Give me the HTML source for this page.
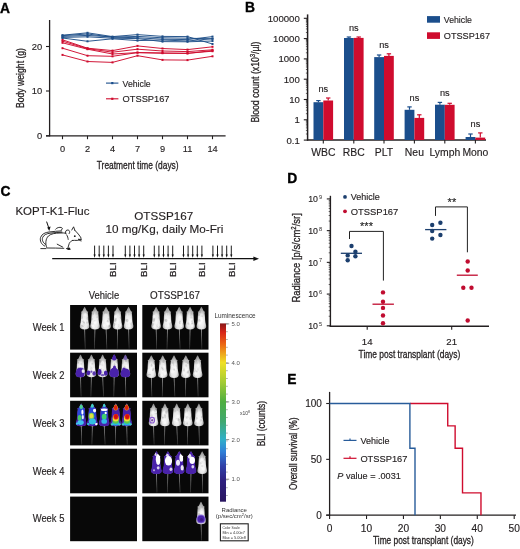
<!DOCTYPE html>
<html><head><meta charset="utf-8"><title>Figure</title>
<style>
html,body{margin:0;padding:0;background:#fff;}
body{width:520px;height:549px;overflow:hidden;}
svg{display:block;font-family:"Liberation Sans", sans-serif;filter:blur(0.25px);}
</style></head>
<body>
<svg width="520" height="549" viewBox="0 0 520 549">
<defs>
<radialGradient id="mg" cx="0.5" cy="0.66" r="0.64">
<stop offset="0" stop-color="#fafafa"/><stop offset="0.5" stop-color="#e8e8e8"/><stop offset="1" stop-color="#8a8a8a"/>
</radialGradient>
<linearGradient id="tg" x1="0" y1="0" x2="0" y2="1">
<stop offset="0" stop-color="#a0a0a0"/><stop offset="1" stop-color="#3a3a3a"/>
</linearGradient>
<linearGradient id="cb" x1="0" y1="0" x2="0" y2="1">
<stop offset="0" stop-color="#881818"/>
<stop offset="0.05" stop-color="#d82418"/>
<stop offset="0.12" stop-color="#ec6a14"/>
<stop offset="0.22" stop-color="#f0e024"/>
<stop offset="0.33" stop-color="#a4cc34"/>
<stop offset="0.44" stop-color="#4eae40"/>
<stop offset="0.55" stop-color="#40a870"/>
<stop offset="0.65" stop-color="#30b0c8"/>
<stop offset="0.72" stop-color="#3080d8"/>
<stop offset="0.80" stop-color="#3040a8"/>
<stop offset="0.88" stop-color="#2e2080"/>
<stop offset="1" stop-color="#2a1660"/>
</linearGradient>
<clipPath id="mc"><path d="M0.00,0.00 L0.70,0.90 L1.30,2.30 L2.00,3.80 L2.80,4.60 L3.70,5.00 L3.20,6.00 L3.40,7.40 L3.60,10.00 L3.70,13.00 L4.00,15.50 L4.50,17.80 L4.80,19.20 L4.60,20.60 L3.80,21.70 L2.20,22.40 L0.00,22.60 L-2.20,22.40 L-3.80,21.70 L-4.60,20.60 L-4.80,19.20 L-4.50,17.80 L-4.00,15.50 L-3.70,13.00 L-3.60,10.00 L-3.40,7.40 L-3.20,6.00 L-3.70,5.00 L-2.80,4.60 L-2.00,3.80 L-1.30,2.30 L-0.70,0.90 Z"/></clipPath>
<clipPath id="mc2"><path d="M0.00,0.00 L0.70,0.90 L1.30,2.30 L2.00,3.80 L2.80,4.60 L3.70,5.00 L3.20,6.00 L3.40,7.40 L3.60,10.00 L3.70,13.00 L4.00,15.50 L4.50,17.80 L4.80,19.20 L4.60,20.60 L3.80,21.70 L2.20,22.40 L0.00,22.60 L-2.20,22.40 L-3.80,21.70 L-4.60,20.60 L-4.80,19.20 L-4.50,17.80 L-4.00,15.50 L-3.70,13.00 L-3.60,10.00 L-3.40,7.40 L-3.20,6.00 L-3.70,5.00 L-2.80,4.60 L-2.00,3.80 L-1.30,2.30 L-0.70,0.90 Z" transform="translate(0 -0.3) scale(1.16 1.03)"/></clipPath>
<filter id="soft" x="-30%" y="-20%" width="160%" height="140%"><feGaussianBlur stdDeviation="0.6"/></filter>
<filter id="soft2" x="-20%" y="-20%" width="140%" height="140%"><feGaussianBlur stdDeviation="0.6"/></filter>
</defs>
<rect width="520" height="549" fill="#fff"/>
<text x="0.00" y="12.60" font-size="13.8" fill="#000" font-weight="bold" style="stroke:#000;stroke-width:0.35">A</text>
<text x="245.00" y="12.20" font-size="13.8" fill="#000" font-weight="bold" style="stroke:#000;stroke-width:0.35">B</text>
<text x="0.40" y="195.80" font-size="13.8" fill="#000" font-weight="bold" style="stroke:#000;stroke-width:0.35">C</text>
<text x="287.20" y="182.90" font-size="13.8" fill="#000" font-weight="bold" style="stroke:#000;stroke-width:0.35">D</text>
<text x="287.30" y="384.30" font-size="13.8" fill="#000" font-weight="bold" style="stroke:#000;stroke-width:0.35">E</text>
<line x1="49.60" y1="20.00" x2="49.60" y2="136.40" stroke="#231f20" stroke-width="1.3" />
<line x1="46.00" y1="135.80" x2="225.60" y2="135.80" stroke="#231f20" stroke-width="1.3" />
<line x1="46.00" y1="135.80" x2="49.60" y2="135.80" stroke="#231f20" stroke-width="1.1" />
<text x="42.20" y="139.10" font-size="9.4" fill="#231f20" text-anchor="end" stroke="#231f20" stroke-width="0.15">0</text>
<line x1="46.00" y1="91.00" x2="49.60" y2="91.00" stroke="#231f20" stroke-width="1.1" />
<text x="42.20" y="94.30" font-size="9.4" fill="#231f20" text-anchor="end" stroke="#231f20" stroke-width="0.15">10</text>
<line x1="46.00" y1="46.50" x2="49.60" y2="46.50" stroke="#231f20" stroke-width="1.1" />
<text x="42.20" y="49.80" font-size="9.4" fill="#231f20" text-anchor="end" stroke="#231f20" stroke-width="0.15">20</text>
<line x1="62.50" y1="135.80" x2="62.50" y2="139.20" stroke="#231f20" stroke-width="1.1" />
<text x="62.50" y="152.20" font-size="9.2" fill="#231f20" text-anchor="middle" stroke="#231f20" stroke-width="0.15">0</text>
<line x1="87.50" y1="135.80" x2="87.50" y2="139.20" stroke="#231f20" stroke-width="1.1" />
<text x="87.50" y="152.20" font-size="9.2" fill="#231f20" text-anchor="middle" stroke="#231f20" stroke-width="0.15">2</text>
<line x1="112.50" y1="135.80" x2="112.50" y2="139.20" stroke="#231f20" stroke-width="1.1" />
<text x="112.50" y="152.20" font-size="9.2" fill="#231f20" text-anchor="middle" stroke="#231f20" stroke-width="0.15">4</text>
<line x1="137.50" y1="135.80" x2="137.50" y2="139.20" stroke="#231f20" stroke-width="1.1" />
<text x="137.50" y="152.20" font-size="9.2" fill="#231f20" text-anchor="middle" stroke="#231f20" stroke-width="0.15">7</text>
<line x1="162.50" y1="135.80" x2="162.50" y2="139.20" stroke="#231f20" stroke-width="1.1" />
<text x="162.50" y="152.20" font-size="9.2" fill="#231f20" text-anchor="middle" stroke="#231f20" stroke-width="0.15">9</text>
<line x1="187.50" y1="135.80" x2="187.50" y2="139.20" stroke="#231f20" stroke-width="1.1" />
<text x="187.50" y="152.20" font-size="9.2" fill="#231f20" text-anchor="middle" stroke="#231f20" stroke-width="0.15">11</text>
<line x1="212.50" y1="135.80" x2="212.50" y2="139.20" stroke="#231f20" stroke-width="1.1" />
<text x="212.50" y="152.20" font-size="9.2" fill="#231f20" text-anchor="middle" stroke="#231f20" stroke-width="0.15">14</text>
<text x="96.80" y="168.60" font-size="11" fill="#231f20" textLength="81.8" lengthAdjust="spacingAndGlyphs" style="stroke:#231f20;stroke-width:0.3">Treatment time (days)</text>
<text x="23.60" y="108.00" font-size="11" fill="#231f20" textLength="60" lengthAdjust="spacingAndGlyphs" transform="rotate(-90 23.60 108.00)" style="stroke:#231f20;stroke-width:0.3">Body weight (g)</text>
<polyline points="62.50,39.80 87.50,48.20 112.50,50.60 137.50,45.90 162.50,48.50 187.50,49.60 212.50,46.80" stroke="#cf0c2e" stroke-width="0.95" fill="none" />
<rect x="61.50" y="38.80" width="2.0" height="2.0" fill="#cf0c2e"/>
<rect x="86.50" y="47.20" width="2.0" height="2.0" fill="#cf0c2e"/>
<rect x="111.50" y="49.60" width="2.0" height="2.0" fill="#cf0c2e"/>
<rect x="136.50" y="44.90" width="2.0" height="2.0" fill="#cf0c2e"/>
<rect x="161.50" y="47.50" width="2.0" height="2.0" fill="#cf0c2e"/>
<rect x="186.50" y="48.60" width="2.0" height="2.0" fill="#cf0c2e"/>
<rect x="211.50" y="45.80" width="2.0" height="2.0" fill="#cf0c2e"/>
<polyline points="62.50,41.20 87.50,48.60 112.50,52.20 137.50,49.20 162.50,51.00 187.50,51.60 212.50,49.80" stroke="#cf0c2e" stroke-width="0.95" fill="none" />
<rect x="61.50" y="40.20" width="2.0" height="2.0" fill="#cf0c2e"/>
<rect x="86.50" y="47.60" width="2.0" height="2.0" fill="#cf0c2e"/>
<rect x="111.50" y="51.20" width="2.0" height="2.0" fill="#cf0c2e"/>
<rect x="136.50" y="48.20" width="2.0" height="2.0" fill="#cf0c2e"/>
<rect x="161.50" y="50.00" width="2.0" height="2.0" fill="#cf0c2e"/>
<rect x="186.50" y="50.60" width="2.0" height="2.0" fill="#cf0c2e"/>
<rect x="211.50" y="48.80" width="2.0" height="2.0" fill="#cf0c2e"/>
<polyline points="62.50,42.80 87.50,49.20 112.50,54.00 137.50,52.60 162.50,53.00 187.50,53.40 212.50,50.60" stroke="#cf0c2e" stroke-width="0.95" fill="none" />
<rect x="61.50" y="41.80" width="2.0" height="2.0" fill="#cf0c2e"/>
<rect x="86.50" y="48.20" width="2.0" height="2.0" fill="#cf0c2e"/>
<rect x="111.50" y="53.00" width="2.0" height="2.0" fill="#cf0c2e"/>
<rect x="136.50" y="51.60" width="2.0" height="2.0" fill="#cf0c2e"/>
<rect x="161.50" y="52.00" width="2.0" height="2.0" fill="#cf0c2e"/>
<rect x="186.50" y="52.40" width="2.0" height="2.0" fill="#cf0c2e"/>
<rect x="211.50" y="49.60" width="2.0" height="2.0" fill="#cf0c2e"/>
<polyline points="62.50,48.20 87.50,55.70 112.50,56.30 137.50,52.60 162.50,53.20 187.50,53.30 212.50,51.20" stroke="#cf0c2e" stroke-width="0.95" fill="none" />
<rect x="61.50" y="47.20" width="2.0" height="2.0" fill="#cf0c2e"/>
<rect x="86.50" y="54.70" width="2.0" height="2.0" fill="#cf0c2e"/>
<rect x="111.50" y="55.30" width="2.0" height="2.0" fill="#cf0c2e"/>
<rect x="136.50" y="51.60" width="2.0" height="2.0" fill="#cf0c2e"/>
<rect x="161.50" y="52.20" width="2.0" height="2.0" fill="#cf0c2e"/>
<rect x="186.50" y="52.30" width="2.0" height="2.0" fill="#cf0c2e"/>
<rect x="211.50" y="50.20" width="2.0" height="2.0" fill="#cf0c2e"/>
<polyline points="62.50,54.90 87.50,61.50 112.50,62.40 137.50,55.70 162.50,59.90 187.50,60.10 212.50,56.30" stroke="#cf0c2e" stroke-width="0.95" fill="none" />
<rect x="61.50" y="53.90" width="2.0" height="2.0" fill="#cf0c2e"/>
<rect x="86.50" y="60.50" width="2.0" height="2.0" fill="#cf0c2e"/>
<rect x="111.50" y="61.40" width="2.0" height="2.0" fill="#cf0c2e"/>
<rect x="136.50" y="54.70" width="2.0" height="2.0" fill="#cf0c2e"/>
<rect x="161.50" y="58.90" width="2.0" height="2.0" fill="#cf0c2e"/>
<rect x="186.50" y="59.10" width="2.0" height="2.0" fill="#cf0c2e"/>
<rect x="211.50" y="55.30" width="2.0" height="2.0" fill="#cf0c2e"/>
<polyline points="62.50,35.20 87.50,32.80 112.50,36.60 137.50,34.60 162.50,36.40 187.50,36.60 212.50,44.00" stroke="#1f4f88" stroke-width="0.95" fill="none" />
<rect x="61.50" y="34.20" width="2.0" height="2.0" fill="#1f4f88"/>
<rect x="86.50" y="31.80" width="2.0" height="2.0" fill="#1f4f88"/>
<rect x="111.50" y="35.60" width="2.0" height="2.0" fill="#1f4f88"/>
<rect x="136.50" y="33.60" width="2.0" height="2.0" fill="#1f4f88"/>
<rect x="161.50" y="35.40" width="2.0" height="2.0" fill="#1f4f88"/>
<rect x="186.50" y="35.60" width="2.0" height="2.0" fill="#1f4f88"/>
<rect x="211.50" y="43.00" width="2.0" height="2.0" fill="#1f4f88"/>
<polyline points="62.50,35.60 87.50,34.00 112.50,37.20 137.50,36.40 162.50,37.80 187.50,38.20 212.50,38.80" stroke="#1f4f88" stroke-width="0.95" fill="none" />
<rect x="61.50" y="34.60" width="2.0" height="2.0" fill="#1f4f88"/>
<rect x="86.50" y="33.00" width="2.0" height="2.0" fill="#1f4f88"/>
<rect x="111.50" y="36.20" width="2.0" height="2.0" fill="#1f4f88"/>
<rect x="136.50" y="35.40" width="2.0" height="2.0" fill="#1f4f88"/>
<rect x="161.50" y="36.80" width="2.0" height="2.0" fill="#1f4f88"/>
<rect x="186.50" y="37.20" width="2.0" height="2.0" fill="#1f4f88"/>
<rect x="211.50" y="37.80" width="2.0" height="2.0" fill="#1f4f88"/>
<polyline points="62.50,36.40 87.50,35.40 112.50,37.00 137.50,37.80 162.50,39.20 187.50,39.60 212.50,36.60" stroke="#1f4f88" stroke-width="0.95" fill="none" />
<rect x="61.50" y="35.40" width="2.0" height="2.0" fill="#1f4f88"/>
<rect x="86.50" y="34.40" width="2.0" height="2.0" fill="#1f4f88"/>
<rect x="111.50" y="36.00" width="2.0" height="2.0" fill="#1f4f88"/>
<rect x="136.50" y="36.80" width="2.0" height="2.0" fill="#1f4f88"/>
<rect x="161.50" y="38.20" width="2.0" height="2.0" fill="#1f4f88"/>
<rect x="186.50" y="38.60" width="2.0" height="2.0" fill="#1f4f88"/>
<rect x="211.50" y="35.60" width="2.0" height="2.0" fill="#1f4f88"/>
<polyline points="62.50,37.40 87.50,36.80 112.50,38.20 137.50,38.60 162.50,41.60 187.50,41.80 212.50,41.00" stroke="#1f4f88" stroke-width="0.95" fill="none" />
<rect x="61.50" y="36.40" width="2.0" height="2.0" fill="#1f4f88"/>
<rect x="86.50" y="35.80" width="2.0" height="2.0" fill="#1f4f88"/>
<rect x="111.50" y="37.20" width="2.0" height="2.0" fill="#1f4f88"/>
<rect x="136.50" y="37.60" width="2.0" height="2.0" fill="#1f4f88"/>
<rect x="161.50" y="40.60" width="2.0" height="2.0" fill="#1f4f88"/>
<rect x="186.50" y="40.80" width="2.0" height="2.0" fill="#1f4f88"/>
<rect x="211.50" y="40.00" width="2.0" height="2.0" fill="#1f4f88"/>
<polyline points="62.50,38.00 87.50,41.30 112.50,38.80 137.50,40.60 162.50,40.00 187.50,41.00 212.50,38.70" stroke="#1f4f88" stroke-width="0.95" fill="none" />
<rect x="61.50" y="37.00" width="2.0" height="2.0" fill="#1f4f88"/>
<rect x="86.50" y="40.30" width="2.0" height="2.0" fill="#1f4f88"/>
<rect x="111.50" y="37.80" width="2.0" height="2.0" fill="#1f4f88"/>
<rect x="136.50" y="39.60" width="2.0" height="2.0" fill="#1f4f88"/>
<rect x="161.50" y="39.00" width="2.0" height="2.0" fill="#1f4f88"/>
<rect x="186.50" y="40.00" width="2.0" height="2.0" fill="#1f4f88"/>
<rect x="211.50" y="37.70" width="2.0" height="2.0" fill="#1f4f88"/>
<line x1="106.00" y1="83.10" x2="118.40" y2="83.10" stroke="#1b4e8c" stroke-width="1.1" />
<rect x="111.20" y="82.00" width="2.20" height="2.20" fill="#1b4e8c" />
<text x="122.60" y="86.60" font-size="9.3" fill="#231f20" textLength="28.1" lengthAdjust="spacingAndGlyphs" stroke="#231f20" stroke-width="0.15">Vehicle</text>
<line x1="106.00" y1="98.80" x2="118.40" y2="98.80" stroke="#cf0c2e" stroke-width="1.1" />
<rect x="111.20" y="97.70" width="2.20" height="2.20" fill="#cf0c2e" />
<text x="122.60" y="102.30" font-size="9.3" fill="#231f20" textLength="46.9" lengthAdjust="spacingAndGlyphs" stroke="#231f20" stroke-width="0.15">OTSSP167</text>
<line x1="307.60" y1="14.40" x2="307.60" y2="140.60" stroke="#231f20" stroke-width="1.5" />
<line x1="306.90" y1="140.00" x2="486.00" y2="140.00" stroke="#231f20" stroke-width="1.5" />
<line x1="303.80" y1="140.10" x2="307.60" y2="140.10" stroke="#231f20" stroke-width="1.1" />
<text x="299.80" y="143.50" font-size="9.6" fill="#231f20" text-anchor="end" stroke="#231f20" stroke-width="0.15">0.1</text>
<line x1="305.90" y1="133.99" x2="307.60" y2="133.99" stroke="#231f20" stroke-width="0.7" />
<line x1="305.90" y1="130.41" x2="307.60" y2="130.41" stroke="#231f20" stroke-width="0.7" />
<line x1="305.90" y1="127.88" x2="307.60" y2="127.88" stroke="#231f20" stroke-width="0.7" />
<line x1="305.90" y1="125.91" x2="307.60" y2="125.91" stroke="#231f20" stroke-width="0.7" />
<line x1="305.90" y1="124.30" x2="307.60" y2="124.30" stroke="#231f20" stroke-width="0.7" />
<line x1="305.90" y1="122.94" x2="307.60" y2="122.94" stroke="#231f20" stroke-width="0.7" />
<line x1="305.90" y1="121.77" x2="307.60" y2="121.77" stroke="#231f20" stroke-width="0.7" />
<line x1="305.90" y1="120.73" x2="307.60" y2="120.73" stroke="#231f20" stroke-width="0.7" />
<line x1="303.80" y1="119.80" x2="307.60" y2="119.80" stroke="#231f20" stroke-width="1.1" />
<text x="299.80" y="123.20" font-size="9.6" fill="#231f20" text-anchor="end" stroke="#231f20" stroke-width="0.15">1</text>
<line x1="305.90" y1="113.69" x2="307.60" y2="113.69" stroke="#231f20" stroke-width="0.7" />
<line x1="305.90" y1="110.11" x2="307.60" y2="110.11" stroke="#231f20" stroke-width="0.7" />
<line x1="305.90" y1="107.58" x2="307.60" y2="107.58" stroke="#231f20" stroke-width="0.7" />
<line x1="305.90" y1="105.61" x2="307.60" y2="105.61" stroke="#231f20" stroke-width="0.7" />
<line x1="305.90" y1="104.00" x2="307.60" y2="104.00" stroke="#231f20" stroke-width="0.7" />
<line x1="305.90" y1="102.64" x2="307.60" y2="102.64" stroke="#231f20" stroke-width="0.7" />
<line x1="305.90" y1="101.47" x2="307.60" y2="101.47" stroke="#231f20" stroke-width="0.7" />
<line x1="305.90" y1="100.43" x2="307.60" y2="100.43" stroke="#231f20" stroke-width="0.7" />
<line x1="303.80" y1="99.50" x2="307.60" y2="99.50" stroke="#231f20" stroke-width="1.1" />
<text x="299.80" y="102.90" font-size="9.6" fill="#231f20" text-anchor="end" stroke="#231f20" stroke-width="0.15">10</text>
<line x1="305.90" y1="93.39" x2="307.60" y2="93.39" stroke="#231f20" stroke-width="0.7" />
<line x1="305.90" y1="89.81" x2="307.60" y2="89.81" stroke="#231f20" stroke-width="0.7" />
<line x1="305.90" y1="87.28" x2="307.60" y2="87.28" stroke="#231f20" stroke-width="0.7" />
<line x1="305.90" y1="85.31" x2="307.60" y2="85.31" stroke="#231f20" stroke-width="0.7" />
<line x1="305.90" y1="83.70" x2="307.60" y2="83.70" stroke="#231f20" stroke-width="0.7" />
<line x1="305.90" y1="82.34" x2="307.60" y2="82.34" stroke="#231f20" stroke-width="0.7" />
<line x1="305.90" y1="81.17" x2="307.60" y2="81.17" stroke="#231f20" stroke-width="0.7" />
<line x1="305.90" y1="80.13" x2="307.60" y2="80.13" stroke="#231f20" stroke-width="0.7" />
<line x1="303.80" y1="79.20" x2="307.60" y2="79.20" stroke="#231f20" stroke-width="1.1" />
<text x="299.80" y="82.60" font-size="9.6" fill="#231f20" text-anchor="end" stroke="#231f20" stroke-width="0.15">100</text>
<line x1="305.90" y1="73.09" x2="307.60" y2="73.09" stroke="#231f20" stroke-width="0.7" />
<line x1="305.90" y1="69.51" x2="307.60" y2="69.51" stroke="#231f20" stroke-width="0.7" />
<line x1="305.90" y1="66.98" x2="307.60" y2="66.98" stroke="#231f20" stroke-width="0.7" />
<line x1="305.90" y1="65.01" x2="307.60" y2="65.01" stroke="#231f20" stroke-width="0.7" />
<line x1="305.90" y1="63.40" x2="307.60" y2="63.40" stroke="#231f20" stroke-width="0.7" />
<line x1="305.90" y1="62.04" x2="307.60" y2="62.04" stroke="#231f20" stroke-width="0.7" />
<line x1="305.90" y1="60.87" x2="307.60" y2="60.87" stroke="#231f20" stroke-width="0.7" />
<line x1="305.90" y1="59.83" x2="307.60" y2="59.83" stroke="#231f20" stroke-width="0.7" />
<line x1="303.80" y1="58.90" x2="307.60" y2="58.90" stroke="#231f20" stroke-width="1.1" />
<text x="299.80" y="62.30" font-size="9.6" fill="#231f20" text-anchor="end" stroke="#231f20" stroke-width="0.15">1000</text>
<line x1="305.90" y1="52.79" x2="307.60" y2="52.79" stroke="#231f20" stroke-width="0.7" />
<line x1="305.90" y1="49.21" x2="307.60" y2="49.21" stroke="#231f20" stroke-width="0.7" />
<line x1="305.90" y1="46.68" x2="307.60" y2="46.68" stroke="#231f20" stroke-width="0.7" />
<line x1="305.90" y1="44.71" x2="307.60" y2="44.71" stroke="#231f20" stroke-width="0.7" />
<line x1="305.90" y1="43.10" x2="307.60" y2="43.10" stroke="#231f20" stroke-width="0.7" />
<line x1="305.90" y1="41.74" x2="307.60" y2="41.74" stroke="#231f20" stroke-width="0.7" />
<line x1="305.90" y1="40.57" x2="307.60" y2="40.57" stroke="#231f20" stroke-width="0.7" />
<line x1="305.90" y1="39.53" x2="307.60" y2="39.53" stroke="#231f20" stroke-width="0.7" />
<line x1="303.80" y1="38.60" x2="307.60" y2="38.60" stroke="#231f20" stroke-width="1.1" />
<text x="299.80" y="42.00" font-size="9.6" fill="#231f20" text-anchor="end" stroke="#231f20" stroke-width="0.15">10000</text>
<line x1="305.90" y1="32.49" x2="307.60" y2="32.49" stroke="#231f20" stroke-width="0.7" />
<line x1="305.90" y1="28.91" x2="307.60" y2="28.91" stroke="#231f20" stroke-width="0.7" />
<line x1="305.90" y1="26.38" x2="307.60" y2="26.38" stroke="#231f20" stroke-width="0.7" />
<line x1="305.90" y1="24.41" x2="307.60" y2="24.41" stroke="#231f20" stroke-width="0.7" />
<line x1="305.90" y1="22.80" x2="307.60" y2="22.80" stroke="#231f20" stroke-width="0.7" />
<line x1="305.90" y1="21.44" x2="307.60" y2="21.44" stroke="#231f20" stroke-width="0.7" />
<line x1="305.90" y1="20.27" x2="307.60" y2="20.27" stroke="#231f20" stroke-width="0.7" />
<line x1="305.90" y1="19.23" x2="307.60" y2="19.23" stroke="#231f20" stroke-width="0.7" />
<line x1="303.80" y1="18.30" x2="307.60" y2="18.30" stroke="#231f20" stroke-width="1.1" />
<text x="299.80" y="21.70" font-size="9.6" fill="#231f20" text-anchor="end" stroke="#231f20" stroke-width="0.15">100000</text>
<text x="258.60" y="122.60" font-size="11" fill="#231f20" textLength="80.9" lengthAdjust="spacingAndGlyphs" transform="rotate(-90 258.60 122.60)" style="stroke:#231f20;stroke-width:0.3">Blood count (x10<tspan font-size="7" dy="-3.5">3</tspan><tspan dy="3.5">/µl)</tspan></text>
<line x1="318.40" y1="100.60" x2="318.40" y2="102.20" stroke="#1b4e8c" stroke-width="1.2" />
<line x1="316.20" y1="100.60" x2="320.60" y2="100.60" stroke="#1b4e8c" stroke-width="1.2" />
<line x1="328.20" y1="98.00" x2="328.20" y2="100.50" stroke="#cf0c2e" stroke-width="1.2" />
<line x1="326.00" y1="98.00" x2="330.40" y2="98.00" stroke="#cf0c2e" stroke-width="1.2" />
<rect x="313.50" y="102.20" width="9.80" height="37.80" fill="#1b4e8c" />
<rect x="323.30" y="100.50" width="9.80" height="39.50" fill="#cf0c2e" />
<line x1="323.30" y1="140.00" x2="323.30" y2="143.50" stroke="#231f20" stroke-width="1.1" />
<text x="323.30" y="156.30" font-size="10.4" fill="#231f20" text-anchor="middle" stroke="#231f20" stroke-width="0.15">WBC</text>
<text x="323.30" y="92.30" font-size="9.2" fill="#231f20" text-anchor="middle" stroke="#231f20" stroke-width="0.15">ns</text>
<line x1="348.90" y1="37.00" x2="348.90" y2="38.00" stroke="#1b4e8c" stroke-width="1.2" />
<line x1="346.70" y1="37.00" x2="351.10" y2="37.00" stroke="#1b4e8c" stroke-width="1.2" />
<line x1="358.70" y1="37.00" x2="358.70" y2="37.90" stroke="#cf0c2e" stroke-width="1.2" />
<line x1="356.50" y1="37.00" x2="360.90" y2="37.00" stroke="#cf0c2e" stroke-width="1.2" />
<rect x="344.00" y="38.00" width="9.80" height="102.00" fill="#1b4e8c" />
<rect x="353.80" y="37.90" width="9.80" height="102.10" fill="#cf0c2e" />
<line x1="353.80" y1="140.00" x2="353.80" y2="143.50" stroke="#231f20" stroke-width="1.1" />
<text x="353.80" y="156.30" font-size="10.4" fill="#231f20" text-anchor="middle" stroke="#231f20" stroke-width="0.15">RBC</text>
<text x="353.80" y="31.00" font-size="9.2" fill="#231f20" text-anchor="middle" stroke="#231f20" stroke-width="0.15">ns</text>
<line x1="379.10" y1="55.00" x2="379.10" y2="57.10" stroke="#1b4e8c" stroke-width="1.2" />
<line x1="376.90" y1="55.00" x2="381.30" y2="55.00" stroke="#1b4e8c" stroke-width="1.2" />
<line x1="388.90" y1="53.80" x2="388.90" y2="55.90" stroke="#cf0c2e" stroke-width="1.2" />
<line x1="386.70" y1="53.80" x2="391.10" y2="53.80" stroke="#cf0c2e" stroke-width="1.2" />
<rect x="374.20" y="57.10" width="9.80" height="82.90" fill="#1b4e8c" />
<rect x="384.00" y="55.90" width="9.80" height="84.10" fill="#cf0c2e" />
<line x1="384.00" y1="140.00" x2="384.00" y2="143.50" stroke="#231f20" stroke-width="1.1" />
<text x="384.00" y="156.30" font-size="10.4" fill="#231f20" text-anchor="middle" stroke="#231f20" stroke-width="0.15">PLT</text>
<text x="384.00" y="47.90" font-size="9.2" fill="#231f20" text-anchor="middle" stroke="#231f20" stroke-width="0.15">ns</text>
<line x1="409.50" y1="106.90" x2="409.50" y2="109.80" stroke="#1b4e8c" stroke-width="1.2" />
<line x1="407.30" y1="106.90" x2="411.70" y2="106.90" stroke="#1b4e8c" stroke-width="1.2" />
<line x1="419.30" y1="114.80" x2="419.30" y2="117.90" stroke="#cf0c2e" stroke-width="1.2" />
<line x1="417.10" y1="114.80" x2="421.50" y2="114.80" stroke="#cf0c2e" stroke-width="1.2" />
<rect x="404.60" y="109.80" width="9.80" height="30.20" fill="#1b4e8c" />
<rect x="414.40" y="117.90" width="9.80" height="22.10" fill="#cf0c2e" />
<line x1="414.40" y1="140.00" x2="414.40" y2="143.50" stroke="#231f20" stroke-width="1.1" />
<text x="414.40" y="156.30" font-size="10.4" fill="#231f20" text-anchor="middle" stroke="#231f20" stroke-width="0.15">Neu</text>
<text x="414.40" y="100.90" font-size="9.2" fill="#231f20" text-anchor="middle" stroke="#231f20" stroke-width="0.15">ns</text>
<line x1="439.90" y1="102.40" x2="439.90" y2="104.70" stroke="#1b4e8c" stroke-width="1.2" />
<line x1="437.70" y1="102.40" x2="442.10" y2="102.40" stroke="#1b4e8c" stroke-width="1.2" />
<line x1="449.70" y1="103.30" x2="449.70" y2="104.80" stroke="#cf0c2e" stroke-width="1.2" />
<line x1="447.50" y1="103.30" x2="451.90" y2="103.30" stroke="#cf0c2e" stroke-width="1.2" />
<rect x="435.00" y="104.70" width="9.80" height="35.30" fill="#1b4e8c" />
<rect x="444.80" y="104.80" width="9.80" height="35.20" fill="#cf0c2e" />
<line x1="444.80" y1="140.00" x2="444.80" y2="143.50" stroke="#231f20" stroke-width="1.1" />
<text x="444.80" y="156.30" font-size="10.4" fill="#231f20" text-anchor="middle" stroke="#231f20" stroke-width="0.15">Lymph</text>
<text x="444.80" y="96.00" font-size="9.2" fill="#231f20" text-anchor="middle" stroke="#231f20" stroke-width="0.15">ns</text>
<line x1="470.50" y1="134.00" x2="470.50" y2="137.00" stroke="#1b4e8c" stroke-width="1.2" />
<line x1="468.30" y1="134.00" x2="472.70" y2="134.00" stroke="#1b4e8c" stroke-width="1.2" />
<line x1="480.30" y1="132.90" x2="480.30" y2="137.60" stroke="#cf0c2e" stroke-width="1.2" />
<line x1="478.10" y1="132.90" x2="482.50" y2="132.90" stroke="#cf0c2e" stroke-width="1.2" />
<rect x="465.60" y="137.00" width="9.80" height="3.00" fill="#1b4e8c" />
<rect x="475.40" y="137.60" width="9.80" height="2.40" fill="#cf0c2e" />
<line x1="475.40" y1="140.00" x2="475.40" y2="143.50" stroke="#231f20" stroke-width="1.1" />
<text x="475.40" y="156.30" font-size="10.4" fill="#231f20" text-anchor="middle" stroke="#231f20" stroke-width="0.15">Mono</text>
<text x="475.40" y="126.50" font-size="9.2" fill="#231f20" text-anchor="middle" stroke="#231f20" stroke-width="0.15">ns</text>
<rect x="427.00" y="16.10" width="13.00" height="6.60" fill="#1b4e8c" />
<rect x="427.00" y="32.30" width="13.00" height="6.60" fill="#cf0c2e" />
<text x="443.80" y="22.60" font-size="9.2" fill="#231f20" textLength="28.2" lengthAdjust="spacingAndGlyphs" stroke="#231f20" stroke-width="0.15">Vehicle</text>
<text x="443.80" y="38.80" font-size="9.2" fill="#231f20" textLength="46.2" lengthAdjust="spacingAndGlyphs" stroke="#231f20" stroke-width="0.15">OTSSP167</text>
<text x="15.40" y="215.30" font-size="10.8" fill="#231f20" textLength="74" lengthAdjust="spacingAndGlyphs" stroke="#231f20" stroke-width="0.15">KOPT-K1-Fluc</text>
<line x1="46.60" y1="221.60" x2="49.00" y2="228.60" stroke="#111" stroke-width="1.0" />
<path d="M47.2,227.6 L50.6,226.6 L49.3,231.0 Z" fill="#111"/>
<text x="134.30" y="220.10" font-size="11.4" fill="#231f20" textLength="58.9" lengthAdjust="spacingAndGlyphs" stroke="#231f20" stroke-width="0.15">OTSSP167</text>
<text x="105.60" y="233.00" font-size="11.4" fill="#231f20" textLength="117.7" lengthAdjust="spacingAndGlyphs" stroke="#231f20" stroke-width="0.15">10 mg/Kg, daily Mo-Fri</text>
<g fill="none" stroke="#1a1a1a" stroke-width="0.9" stroke-linecap="round" stroke-linejoin="round">
<path d="M44.6,246.0 C41.2,244.5 39.6,240.5 40.6,237.4 C41.8,233.8 45.5,232.4 49.0,232.0 C53.5,231.5 57.5,231.0 61.5,230.9"/>
<path d="M45.6,244.4 C42.8,243.0 41.8,239.6 42.6,237.6 C43.8,234.6 47.0,233.6 50.0,233.2 C54.5,232.6 58.0,232.3 62.0,232.2"/>
<path d="M55.6,229.2 C56.6,227.6 59.6,226.9 61.6,227.6 C62.8,228.1 62.6,229.6 61.2,230.1"/>
<path d="M46.6,247.4 C45.2,243.6 45.6,238.8 48.4,236.0 C51.0,233.6 55.5,233.1 60.0,233.0 C62.5,232.9 64.5,232.9 66.0,233.2"/>
<path d="M65.6,233.4 C64.8,231.4 66.4,229.6 68.2,230.0 C69.8,230.4 70.2,232.4 69.2,233.6"/>
<path d="M71.8,230.0 L73.6,226.8 L74.9,230.4"/>
<path d="M74.9,230.4 C77.2,232.6 79.6,235.4 81.2,238.2 C80.2,239.8 78.6,240.4 77.2,240.4 C75.2,240.5 73.6,240.2 72.6,240.4"/>
<path d="M72.6,240.4 C71.0,241.2 69.6,242.2 69.2,243.6 L68.0,247.6"/>
<path d="M66.4,248.6 L70.0,249.0"/>
<path d="M66.6,234.8 C67.6,236.2 68.0,237.8 68.2,239.4"/>
<path d="M47.2,248.0 C52.5,248.0 58.0,248.1 63.8,248.3"/>
<path d="M40.8,248.6 L46.0,248.6"/>
<path d="M57.2,244.2 L62.6,247.0"/>
<path d="M78.6,239.2 L81.6,239.8 M78.6,239.6 L81.0,241.0"/>
</g>
<circle cx="74.8" cy="236.2" r="0.9" fill="#1a1a1a"/>
<path d="M67.2,248.0 L69.6,247.6 L70.6,249.8 L67.6,250.0 Z" fill="#1a1a1a"/>
<line x1="52.20" y1="258.70" x2="255.00" y2="258.70" stroke="#111" stroke-width="1.3" />
<path d="M253.4,256.40 L259.0,258.70 L253.4,261.00 Z" fill="#111"/>
<line x1="94.60" y1="245.60" x2="94.60" y2="255.00" stroke="#111" stroke-width="0.95" />
<path d="M93.50,254.6 L95.70,254.6 L94.60,257.8 Z" fill="#111"/>
<line x1="99.20" y1="245.60" x2="99.20" y2="255.00" stroke="#111" stroke-width="0.95" />
<path d="M98.10,254.6 L100.30,254.6 L99.20,257.8 Z" fill="#111"/>
<line x1="103.80" y1="245.60" x2="103.80" y2="255.00" stroke="#111" stroke-width="0.95" />
<path d="M102.70,254.6 L104.90,254.6 L103.80,257.8 Z" fill="#111"/>
<line x1="108.40" y1="245.60" x2="108.40" y2="255.00" stroke="#111" stroke-width="0.95" />
<path d="M107.30,254.6 L109.50,254.6 L108.40,257.8 Z" fill="#111"/>
<line x1="113.00" y1="245.60" x2="113.00" y2="255.00" stroke="#111" stroke-width="0.95" />
<path d="M111.90,254.6 L114.10,254.6 L113.00,257.8 Z" fill="#111"/>
<text x="116.40" y="276.90" font-size="9.4" fill="#231f20" textLength="14.6" lengthAdjust="spacingAndGlyphs" transform="rotate(-90 116.40 276.90)" style="stroke:#231f20;stroke-width:0.25">BLI</text>
<line x1="125.30" y1="245.60" x2="125.30" y2="255.00" stroke="#111" stroke-width="0.95" />
<path d="M124.20,254.6 L126.40,254.6 L125.30,257.8 Z" fill="#111"/>
<line x1="129.90" y1="245.60" x2="129.90" y2="255.00" stroke="#111" stroke-width="0.95" />
<path d="M128.80,254.6 L131.00,254.6 L129.90,257.8 Z" fill="#111"/>
<line x1="134.50" y1="245.60" x2="134.50" y2="255.00" stroke="#111" stroke-width="0.95" />
<path d="M133.40,254.6 L135.60,254.6 L134.50,257.8 Z" fill="#111"/>
<line x1="139.10" y1="245.60" x2="139.10" y2="255.00" stroke="#111" stroke-width="0.95" />
<path d="M138.00,254.6 L140.20,254.6 L139.10,257.8 Z" fill="#111"/>
<line x1="143.70" y1="245.60" x2="143.70" y2="255.00" stroke="#111" stroke-width="0.95" />
<path d="M142.60,254.6 L144.80,254.6 L143.70,257.8 Z" fill="#111"/>
<text x="147.10" y="276.90" font-size="9.4" fill="#231f20" textLength="14.6" lengthAdjust="spacingAndGlyphs" transform="rotate(-90 147.10 276.90)" style="stroke:#231f20;stroke-width:0.25">BLI</text>
<line x1="154.30" y1="245.60" x2="154.30" y2="255.00" stroke="#111" stroke-width="0.95" />
<path d="M153.20,254.6 L155.40,254.6 L154.30,257.8 Z" fill="#111"/>
<line x1="158.90" y1="245.60" x2="158.90" y2="255.00" stroke="#111" stroke-width="0.95" />
<path d="M157.80,254.6 L160.00,254.6 L158.90,257.8 Z" fill="#111"/>
<line x1="163.50" y1="245.60" x2="163.50" y2="255.00" stroke="#111" stroke-width="0.95" />
<path d="M162.40,254.6 L164.60,254.6 L163.50,257.8 Z" fill="#111"/>
<line x1="168.10" y1="245.60" x2="168.10" y2="255.00" stroke="#111" stroke-width="0.95" />
<path d="M167.00,254.6 L169.20,254.6 L168.10,257.8 Z" fill="#111"/>
<line x1="172.70" y1="245.60" x2="172.70" y2="255.00" stroke="#111" stroke-width="0.95" />
<path d="M171.60,254.6 L173.80,254.6 L172.70,257.8 Z" fill="#111"/>
<text x="176.10" y="276.90" font-size="9.4" fill="#231f20" textLength="14.6" lengthAdjust="spacingAndGlyphs" transform="rotate(-90 176.10 276.90)" style="stroke:#231f20;stroke-width:0.25">BLI</text>
<line x1="183.50" y1="245.60" x2="183.50" y2="255.00" stroke="#111" stroke-width="0.95" />
<path d="M182.40,254.6 L184.60,254.6 L183.50,257.8 Z" fill="#111"/>
<line x1="188.10" y1="245.60" x2="188.10" y2="255.00" stroke="#111" stroke-width="0.95" />
<path d="M187.00,254.6 L189.20,254.6 L188.10,257.8 Z" fill="#111"/>
<line x1="192.70" y1="245.60" x2="192.70" y2="255.00" stroke="#111" stroke-width="0.95" />
<path d="M191.60,254.6 L193.80,254.6 L192.70,257.8 Z" fill="#111"/>
<line x1="197.30" y1="245.60" x2="197.30" y2="255.00" stroke="#111" stroke-width="0.95" />
<path d="M196.20,254.6 L198.40,254.6 L197.30,257.8 Z" fill="#111"/>
<line x1="201.90" y1="245.60" x2="201.90" y2="255.00" stroke="#111" stroke-width="0.95" />
<path d="M200.80,254.6 L203.00,254.6 L201.90,257.8 Z" fill="#111"/>
<text x="205.30" y="276.90" font-size="9.4" fill="#231f20" textLength="14.6" lengthAdjust="spacingAndGlyphs" transform="rotate(-90 205.30 276.90)" style="stroke:#231f20;stroke-width:0.25">BLI</text>
<line x1="212.90" y1="245.60" x2="212.90" y2="255.00" stroke="#111" stroke-width="0.95" />
<path d="M211.80,254.6 L214.00,254.6 L212.90,257.8 Z" fill="#111"/>
<line x1="217.50" y1="245.60" x2="217.50" y2="255.00" stroke="#111" stroke-width="0.95" />
<path d="M216.40,254.6 L218.60,254.6 L217.50,257.8 Z" fill="#111"/>
<line x1="222.10" y1="245.60" x2="222.10" y2="255.00" stroke="#111" stroke-width="0.95" />
<path d="M221.00,254.6 L223.20,254.6 L222.10,257.8 Z" fill="#111"/>
<line x1="226.70" y1="245.60" x2="226.70" y2="255.00" stroke="#111" stroke-width="0.95" />
<path d="M225.60,254.6 L227.80,254.6 L226.70,257.8 Z" fill="#111"/>
<line x1="231.30" y1="245.60" x2="231.30" y2="255.00" stroke="#111" stroke-width="0.95" />
<path d="M230.20,254.6 L232.40,254.6 L231.30,257.8 Z" fill="#111"/>
<text x="234.70" y="276.90" font-size="9.4" fill="#231f20" textLength="14.6" lengthAdjust="spacingAndGlyphs" transform="rotate(-90 234.70 276.90)" style="stroke:#231f20;stroke-width:0.25">BLI</text>
<text x="88.70" y="298.60" font-size="10.3" fill="#231f20" textLength="30.5" lengthAdjust="spacingAndGlyphs" stroke="#231f20" stroke-width="0.15">Vehicle</text>
<text x="150.00" y="298.60" font-size="10.3" fill="#231f20" textLength="49.9" lengthAdjust="spacingAndGlyphs" stroke="#231f20" stroke-width="0.15">OTSSP167</text>
<text x="32.70" y="330.80" font-size="10.5" fill="#231f20" textLength="31.7" lengthAdjust="spacingAndGlyphs" stroke="#231f20" stroke-width="0.15">Week 1</text>
<rect x="70.10" y="305.00" width="66.90" height="44.60" fill="#080808" />
<rect x="142.30" y="305.00" width="66.20" height="44.60" fill="#080808" />
<text x="32.70" y="378.50" font-size="10.5" fill="#231f20" textLength="31.7" lengthAdjust="spacingAndGlyphs" stroke="#231f20" stroke-width="0.15">Week 2</text>
<rect x="70.10" y="352.70" width="66.90" height="44.60" fill="#080808" />
<rect x="142.30" y="352.70" width="66.20" height="44.60" fill="#080808" />
<text x="32.70" y="426.60" font-size="10.5" fill="#231f20" textLength="31.7" lengthAdjust="spacingAndGlyphs" stroke="#231f20" stroke-width="0.15">Week 3</text>
<rect x="70.10" y="400.80" width="66.90" height="44.60" fill="#080808" />
<rect x="142.30" y="400.80" width="66.20" height="44.60" fill="#080808" />
<text x="32.70" y="474.50" font-size="10.5" fill="#231f20" textLength="31.7" lengthAdjust="spacingAndGlyphs" stroke="#231f20" stroke-width="0.15">Week 4</text>
<rect x="70.10" y="448.70" width="66.90" height="44.60" fill="#080808" />
<rect x="142.30" y="448.70" width="66.20" height="44.60" fill="#080808" />
<text x="32.70" y="522.40" font-size="10.5" fill="#231f20" textLength="31.7" lengthAdjust="spacingAndGlyphs" stroke="#231f20" stroke-width="0.15">Week 5</text>
<rect x="70.10" y="496.60" width="66.90" height="44.60" fill="#080808" />
<rect x="142.30" y="496.60" width="66.20" height="44.60" fill="#080808" />
<g transform="translate(84.60 306.80)">
<path d="M-0.45,20.5 L0.45,20.5 L0.90,42.00 L0.30,42.00 Z" fill="url(#tg)" filter="url(#soft)"/>
<g filter="url(#soft)">
<path d="M0.00,0.00 L0.70,0.90 L1.30,2.30 L2.00,3.80 L2.80,4.60 L3.70,5.00 L3.20,6.00 L3.40,7.40 L3.60,10.00 L3.70,13.00 L4.00,15.50 L4.50,17.80 L4.80,19.20 L4.60,20.60 L3.80,21.70 L2.20,22.40 L0.00,22.60 L-2.20,22.40 L-3.80,21.70 L-4.60,20.60 L-4.80,19.20 L-4.50,17.80 L-4.00,15.50 L-3.70,13.00 L-3.60,10.00 L-3.40,7.40 L-3.20,6.00 L-3.70,5.00 L-2.80,4.60 L-2.00,3.80 L-1.30,2.30 L-0.70,0.90 Z" fill="url(#mg)"/>
<g clip-path="url(#mc)"><ellipse cx="2.41" cy="15.89" rx="0.94" ry="1.11" fill="#6a6a6a" opacity="0.19"/><ellipse cx="-0.67" cy="16.32" rx="0.84" ry="1.37" fill="#6a6a6a" opacity="0.20"/><ellipse cx="2.86" cy="11.58" rx="0.83" ry="1.71" fill="#6a6a6a" opacity="0.21"/><ellipse cx="-1.75" cy="18.47" rx="1.39" ry="1.77" fill="#6a6a6a" opacity="0.25"/><ellipse cx="-1.33" cy="15.41" rx="1.32" ry="1.62" fill="#6a6a6a" opacity="0.19"/><ellipse cx="-2.80" cy="10.38" rx="1.09" ry="1.90" fill="#6a6a6a" opacity="0.26"/><ellipse cx="-0.16" cy="17.71" rx="0.81" ry="1.77" fill="#6a6a6a" opacity="0.20"/><ellipse cx="-2.43" cy="16.64" rx="1.4" ry="1.8" fill="#ffffff" opacity="0.5"/><ellipse cx="-0.51" cy="17.90" rx="1.4" ry="1.8" fill="#ffffff" opacity="0.5"/><ellipse cx="0.84" cy="8.01" rx="1.4" ry="1.8" fill="#ffffff" opacity="0.5"/></g>
</g></g>
<g transform="translate(95.00 306.80)">
<path d="M-0.45,20.5 L0.45,20.5 L-0.20,42.00 L-0.80,42.00 Z" fill="url(#tg)" filter="url(#soft)"/>
<g filter="url(#soft)">
<path d="M0.00,0.00 L0.70,0.90 L1.30,2.30 L2.00,3.80 L2.80,4.60 L3.70,5.00 L3.20,6.00 L3.40,7.40 L3.60,10.00 L3.70,13.00 L4.00,15.50 L4.50,17.80 L4.80,19.20 L4.60,20.60 L3.80,21.70 L2.20,22.40 L0.00,22.60 L-2.20,22.40 L-3.80,21.70 L-4.60,20.60 L-4.80,19.20 L-4.50,17.80 L-4.00,15.50 L-3.70,13.00 L-3.60,10.00 L-3.40,7.40 L-3.20,6.00 L-3.70,5.00 L-2.80,4.60 L-2.00,3.80 L-1.30,2.30 L-0.70,0.90 Z" fill="url(#mg)"/>
<g clip-path="url(#mc)"><ellipse cx="-2.56" cy="17.41" rx="1.21" ry="1.11" fill="#6a6a6a" opacity="0.19"/><ellipse cx="-0.35" cy="14.08" rx="1.23" ry="0.91" fill="#6a6a6a" opacity="0.12"/><ellipse cx="2.35" cy="10.36" rx="1.21" ry="0.80" fill="#6a6a6a" opacity="0.18"/><ellipse cx="1.55" cy="6.89" rx="1.36" ry="1.88" fill="#6a6a6a" opacity="0.12"/><ellipse cx="-3.32" cy="12.20" rx="1.35" ry="1.26" fill="#6a6a6a" opacity="0.15"/><ellipse cx="-0.55" cy="3.49" rx="0.78" ry="1.33" fill="#6a6a6a" opacity="0.19"/><ellipse cx="-1.87" cy="6.92" rx="0.78" ry="1.35" fill="#6a6a6a" opacity="0.16"/><ellipse cx="-2.39" cy="18.05" rx="1.4" ry="1.8" fill="#ffffff" opacity="0.5"/><ellipse cx="0.28" cy="15.71" rx="1.4" ry="1.8" fill="#ffffff" opacity="0.5"/><ellipse cx="-1.57" cy="19.91" rx="1.4" ry="1.8" fill="#ffffff" opacity="0.5"/></g>
</g></g>
<g transform="translate(106.00 306.80)">
<path d="M-0.45,20.5 L0.45,20.5 L1.20,42.00 L0.60,42.00 Z" fill="url(#tg)" filter="url(#soft)"/>
<g filter="url(#soft)">
<path d="M0.00,0.00 L0.70,0.90 L1.30,2.30 L2.00,3.80 L2.80,4.60 L3.70,5.00 L3.20,6.00 L3.40,7.40 L3.60,10.00 L3.70,13.00 L4.00,15.50 L4.50,17.80 L4.80,19.20 L4.60,20.60 L3.80,21.70 L2.20,22.40 L0.00,22.60 L-2.20,22.40 L-3.80,21.70 L-4.60,20.60 L-4.80,19.20 L-4.50,17.80 L-4.00,15.50 L-3.70,13.00 L-3.60,10.00 L-3.40,7.40 L-3.20,6.00 L-3.70,5.00 L-2.80,4.60 L-2.00,3.80 L-1.30,2.30 L-0.70,0.90 Z" fill="url(#mg)"/>
<g clip-path="url(#mc)"><ellipse cx="3.19" cy="19.11" rx="0.65" ry="0.90" fill="#6a6a6a" opacity="0.24"/><ellipse cx="1.65" cy="14.39" rx="0.85" ry="1.53" fill="#6a6a6a" opacity="0.20"/><ellipse cx="0.57" cy="5.69" rx="0.94" ry="1.27" fill="#6a6a6a" opacity="0.22"/><ellipse cx="3.46" cy="19.14" rx="1.04" ry="1.33" fill="#6a6a6a" opacity="0.16"/><ellipse cx="-3.25" cy="3.47" rx="0.97" ry="1.18" fill="#6a6a6a" opacity="0.17"/><ellipse cx="2.74" cy="11.94" rx="1.05" ry="1.08" fill="#6a6a6a" opacity="0.12"/><ellipse cx="-1.22" cy="5.32" rx="1.01" ry="2.00" fill="#6a6a6a" opacity="0.21"/><ellipse cx="-1.59" cy="18.72" rx="1.4" ry="1.8" fill="#ffffff" opacity="0.5"/><ellipse cx="1.48" cy="16.81" rx="1.4" ry="1.8" fill="#ffffff" opacity="0.5"/><ellipse cx="2.03" cy="17.15" rx="1.4" ry="1.8" fill="#ffffff" opacity="0.5"/></g>
</g></g>
<g transform="translate(117.60 306.80)">
<path d="M-0.45,20.5 L0.45,20.5 L-0.10,42.00 L-0.70,42.00 Z" fill="url(#tg)" filter="url(#soft)"/>
<g filter="url(#soft)">
<path d="M0.00,0.00 L0.70,0.90 L1.30,2.30 L2.00,3.80 L2.80,4.60 L3.70,5.00 L3.20,6.00 L3.40,7.40 L3.60,10.00 L3.70,13.00 L4.00,15.50 L4.50,17.80 L4.80,19.20 L4.60,20.60 L3.80,21.70 L2.20,22.40 L0.00,22.60 L-2.20,22.40 L-3.80,21.70 L-4.60,20.60 L-4.80,19.20 L-4.50,17.80 L-4.00,15.50 L-3.70,13.00 L-3.60,10.00 L-3.40,7.40 L-3.20,6.00 L-3.70,5.00 L-2.80,4.60 L-2.00,3.80 L-1.30,2.30 L-0.70,0.90 Z" fill="url(#mg)"/>
<g clip-path="url(#mc)"><ellipse cx="-1.83" cy="12.25" rx="0.90" ry="1.52" fill="#6a6a6a" opacity="0.21"/><ellipse cx="-3.04" cy="3.22" rx="1.27" ry="1.11" fill="#6a6a6a" opacity="0.15"/><ellipse cx="3.47" cy="10.99" rx="1.27" ry="1.37" fill="#6a6a6a" opacity="0.21"/><ellipse cx="-2.45" cy="13.79" rx="1.29" ry="1.43" fill="#6a6a6a" opacity="0.22"/><ellipse cx="1.20" cy="4.09" rx="1.21" ry="1.51" fill="#6a6a6a" opacity="0.16"/><ellipse cx="-3.28" cy="17.71" rx="0.98" ry="1.66" fill="#6a6a6a" opacity="0.24"/><ellipse cx="1.50" cy="18.66" rx="0.92" ry="1.76" fill="#6a6a6a" opacity="0.18"/><ellipse cx="2.18" cy="18.55" rx="1.4" ry="1.8" fill="#ffffff" opacity="0.5"/><ellipse cx="-2.01" cy="9.63" rx="1.4" ry="1.8" fill="#ffffff" opacity="0.5"/><ellipse cx="-1.42" cy="19.59" rx="1.4" ry="1.8" fill="#ffffff" opacity="0.5"/></g>
</g></g>
<g transform="translate(128.60 306.80)">
<path d="M-0.45,20.5 L0.45,20.5 L0.80,42.00 L0.20,42.00 Z" fill="url(#tg)" filter="url(#soft)"/>
<g filter="url(#soft)">
<path d="M0.00,0.00 L0.70,0.90 L1.30,2.30 L2.00,3.80 L2.80,4.60 L3.70,5.00 L3.20,6.00 L3.40,7.40 L3.60,10.00 L3.70,13.00 L4.00,15.50 L4.50,17.80 L4.80,19.20 L4.60,20.60 L3.80,21.70 L2.20,22.40 L0.00,22.60 L-2.20,22.40 L-3.80,21.70 L-4.60,20.60 L-4.80,19.20 L-4.50,17.80 L-4.00,15.50 L-3.70,13.00 L-3.60,10.00 L-3.40,7.40 L-3.20,6.00 L-3.70,5.00 L-2.80,4.60 L-2.00,3.80 L-1.30,2.30 L-0.70,0.90 Z" fill="url(#mg)"/>
<g clip-path="url(#mc)"><ellipse cx="-1.85" cy="4.75" rx="0.92" ry="0.99" fill="#6a6a6a" opacity="0.13"/><ellipse cx="-0.69" cy="18.61" rx="1.24" ry="1.72" fill="#6a6a6a" opacity="0.15"/><ellipse cx="0.26" cy="7.70" rx="0.74" ry="0.93" fill="#6a6a6a" opacity="0.15"/><ellipse cx="2.99" cy="17.09" rx="1.25" ry="1.76" fill="#6a6a6a" opacity="0.15"/><ellipse cx="-1.33" cy="13.66" rx="1.19" ry="1.83" fill="#6a6a6a" opacity="0.24"/><ellipse cx="-2.89" cy="13.30" rx="1.14" ry="1.41" fill="#6a6a6a" opacity="0.14"/><ellipse cx="-0.18" cy="4.52" rx="1.35" ry="1.84" fill="#6a6a6a" opacity="0.20"/><ellipse cx="-1.00" cy="18.91" rx="1.4" ry="1.8" fill="#ffffff" opacity="0.5"/><ellipse cx="0.36" cy="18.59" rx="1.4" ry="1.8" fill="#ffffff" opacity="0.5"/><ellipse cx="1.74" cy="14.10" rx="1.4" ry="1.8" fill="#ffffff" opacity="0.5"/></g>
</g></g>
<g transform="translate(80.50 354.60)">
<path d="M-0.45,20.5 L0.45,20.5 L0.90,41.90 L0.30,41.90 Z" fill="url(#tg)" filter="url(#soft)"/>
<g filter="url(#soft)">
<path d="M0.00,0.00 L0.70,0.90 L1.30,2.30 L2.00,3.80 L2.80,4.60 L3.70,5.00 L3.20,6.00 L3.40,7.40 L3.60,10.00 L3.70,13.00 L4.00,15.50 L4.50,17.80 L4.80,19.20 L4.60,20.60 L3.80,21.70 L2.20,22.40 L0.00,22.60 L-2.20,22.40 L-3.80,21.70 L-4.60,20.60 L-4.80,19.20 L-4.50,17.80 L-4.00,15.50 L-3.70,13.00 L-3.60,10.00 L-3.40,7.40 L-3.20,6.00 L-3.70,5.00 L-2.80,4.60 L-2.00,3.80 L-1.30,2.30 L-0.70,0.90 Z" fill="url(#mg)"/>
<g clip-path="url(#mc)"><ellipse cx="-1.23" cy="5.56" rx="1.12" ry="0.89" fill="#6a6a6a" opacity="0.20"/><ellipse cx="-0.94" cy="3.99" rx="1.01" ry="0.84" fill="#6a6a6a" opacity="0.18"/><ellipse cx="-3.01" cy="4.54" rx="0.94" ry="1.79" fill="#6a6a6a" opacity="0.14"/><ellipse cx="-1.94" cy="13.67" rx="1.36" ry="1.49" fill="#6a6a6a" opacity="0.18"/><ellipse cx="3.33" cy="3.79" rx="1.29" ry="1.15" fill="#6a6a6a" opacity="0.14"/><ellipse cx="-2.68" cy="8.24" rx="1.25" ry="1.02" fill="#6a6a6a" opacity="0.20"/><ellipse cx="0.97" cy="9.33" rx="1.04" ry="0.88" fill="#6a6a6a" opacity="0.13"/><ellipse cx="-1.47" cy="16.16" rx="1.4" ry="1.8" fill="#ffffff" opacity="0.5"/><ellipse cx="-0.36" cy="11.77" rx="1.4" ry="1.8" fill="#ffffff" opacity="0.5"/><ellipse cx="0.43" cy="13.44" rx="1.4" ry="1.8" fill="#ffffff" opacity="0.5"/></g>
<g clip-path="url(#mc2)"><g filter="url(#soft2)"><ellipse cx="-0.40" cy="18.60" rx="4.60" ry="5.20" fill="#4a24aa"/><ellipse cx="0.00" cy="15.00" rx="3.40" ry="2.00" fill="#4a24aa" opacity="0.8"/><ellipse cx="2.60" cy="16.50" rx="1.50" ry="1.90" fill="#ffffff" opacity="0.9"/></g></g>
</g></g>
<g transform="translate(91.40 354.60)">
<path d="M-0.45,20.5 L0.45,20.5 L-0.20,41.90 L-0.80,41.90 Z" fill="url(#tg)" filter="url(#soft)"/>
<g filter="url(#soft)">
<path d="M0.00,0.00 L0.70,0.90 L1.30,2.30 L2.00,3.80 L2.80,4.60 L3.70,5.00 L3.20,6.00 L3.40,7.40 L3.60,10.00 L3.70,13.00 L4.00,15.50 L4.50,17.80 L4.80,19.20 L4.60,20.60 L3.80,21.70 L2.20,22.40 L0.00,22.60 L-2.20,22.40 L-3.80,21.70 L-4.60,20.60 L-4.80,19.20 L-4.50,17.80 L-4.00,15.50 L-3.70,13.00 L-3.60,10.00 L-3.40,7.40 L-3.20,6.00 L-3.70,5.00 L-2.80,4.60 L-2.00,3.80 L-1.30,2.30 L-0.70,0.90 Z" fill="url(#mg)"/>
<g clip-path="url(#mc)"><ellipse cx="-1.91" cy="19.36" rx="0.70" ry="1.65" fill="#6a6a6a" opacity="0.13"/><ellipse cx="-1.77" cy="19.99" rx="0.77" ry="1.57" fill="#6a6a6a" opacity="0.18"/><ellipse cx="-0.33" cy="11.41" rx="0.75" ry="1.80" fill="#6a6a6a" opacity="0.13"/><ellipse cx="-1.86" cy="3.34" rx="0.81" ry="1.29" fill="#6a6a6a" opacity="0.25"/><ellipse cx="-0.85" cy="4.93" rx="0.81" ry="1.99" fill="#6a6a6a" opacity="0.13"/><ellipse cx="0.84" cy="9.41" rx="1.13" ry="1.21" fill="#6a6a6a" opacity="0.22"/><ellipse cx="-0.02" cy="14.05" rx="1.32" ry="1.50" fill="#6a6a6a" opacity="0.14"/><ellipse cx="-2.18" cy="19.35" rx="1.4" ry="1.8" fill="#ffffff" opacity="0.5"/><ellipse cx="-0.06" cy="10.33" rx="1.4" ry="1.8" fill="#ffffff" opacity="0.5"/><ellipse cx="2.23" cy="14.95" rx="1.4" ry="1.8" fill="#ffffff" opacity="0.5"/></g>
<g clip-path="url(#mc2)"><g filter="url(#soft2)"><ellipse cx="-3.00" cy="18.20" rx="2.00" ry="2.40" fill="#4a24aa"/><ellipse cx="2.80" cy="18.80" rx="1.80" ry="2.20" fill="#4a24aa" opacity="0.9"/><ellipse cx="0.00" cy="17.00" rx="1.00" ry="1.20" fill="#4a24aa" opacity="0.8"/></g></g>
</g></g>
<g transform="translate(102.60 354.60)">
<path d="M-0.45,20.5 L0.45,20.5 L1.20,41.90 L0.60,41.90 Z" fill="url(#tg)" filter="url(#soft)"/>
<g filter="url(#soft)">
<path d="M0.00,0.00 L0.70,0.90 L1.30,2.30 L2.00,3.80 L2.80,4.60 L3.70,5.00 L3.20,6.00 L3.40,7.40 L3.60,10.00 L3.70,13.00 L4.00,15.50 L4.50,17.80 L4.80,19.20 L4.60,20.60 L3.80,21.70 L2.20,22.40 L0.00,22.60 L-2.20,22.40 L-3.80,21.70 L-4.60,20.60 L-4.80,19.20 L-4.50,17.80 L-4.00,15.50 L-3.70,13.00 L-3.60,10.00 L-3.40,7.40 L-3.20,6.00 L-3.70,5.00 L-2.80,4.60 L-2.00,3.80 L-1.30,2.30 L-0.70,0.90 Z" fill="url(#mg)"/>
<g clip-path="url(#mc)"><ellipse cx="-0.26" cy="9.35" rx="0.71" ry="1.84" fill="#6a6a6a" opacity="0.12"/><ellipse cx="0.02" cy="18.27" rx="0.66" ry="1.47" fill="#6a6a6a" opacity="0.21"/><ellipse cx="-3.21" cy="9.44" rx="1.16" ry="1.34" fill="#6a6a6a" opacity="0.22"/><ellipse cx="-2.40" cy="7.05" rx="0.69" ry="1.41" fill="#6a6a6a" opacity="0.25"/><ellipse cx="0.63" cy="16.16" rx="0.91" ry="1.70" fill="#6a6a6a" opacity="0.13"/><ellipse cx="-1.46" cy="14.46" rx="1.18" ry="1.31" fill="#6a6a6a" opacity="0.13"/><ellipse cx="-1.63" cy="6.57" rx="0.82" ry="1.77" fill="#6a6a6a" opacity="0.15"/><ellipse cx="1.93" cy="18.55" rx="1.4" ry="1.8" fill="#ffffff" opacity="0.5"/><ellipse cx="-2.23" cy="12.55" rx="1.4" ry="1.8" fill="#ffffff" opacity="0.5"/><ellipse cx="-0.04" cy="8.28" rx="1.4" ry="1.8" fill="#ffffff" opacity="0.5"/></g>
<g clip-path="url(#mc2)"><g filter="url(#soft2)"><ellipse cx="-3.20" cy="17.50" rx="2.20" ry="3.00" fill="#4a24aa"/><ellipse cx="3.20" cy="18.50" rx="2.00" ry="2.60" fill="#4a24aa"/><ellipse cx="0.00" cy="20.50" rx="2.00" ry="1.20" fill="#4a24aa" opacity="0.7"/></g></g>
</g></g>
<g transform="translate(114.20 354.60)">
<path d="M-0.45,20.5 L0.45,20.5 L-0.10,41.90 L-0.70,41.90 Z" fill="url(#tg)" filter="url(#soft)"/>
<g filter="url(#soft)">
<path d="M0.00,0.00 L0.70,0.90 L1.30,2.30 L2.00,3.80 L2.80,4.60 L3.70,5.00 L3.20,6.00 L3.40,7.40 L3.60,10.00 L3.70,13.00 L4.00,15.50 L4.50,17.80 L4.80,19.20 L4.60,20.60 L3.80,21.70 L2.20,22.40 L0.00,22.60 L-2.20,22.40 L-3.80,21.70 L-4.60,20.60 L-4.80,19.20 L-4.50,17.80 L-4.00,15.50 L-3.70,13.00 L-3.60,10.00 L-3.40,7.40 L-3.20,6.00 L-3.70,5.00 L-2.80,4.60 L-2.00,3.80 L-1.30,2.30 L-0.70,0.90 Z" fill="url(#mg)"/>
<g clip-path="url(#mc)"><ellipse cx="0.50" cy="10.29" rx="1.06" ry="1.05" fill="#6a6a6a" opacity="0.23"/><ellipse cx="2.27" cy="14.11" rx="0.73" ry="1.42" fill="#6a6a6a" opacity="0.17"/><ellipse cx="-1.75" cy="19.20" rx="1.40" ry="0.85" fill="#6a6a6a" opacity="0.24"/><ellipse cx="0.72" cy="9.49" rx="0.83" ry="1.61" fill="#6a6a6a" opacity="0.18"/><ellipse cx="1.30" cy="14.25" rx="0.71" ry="1.72" fill="#6a6a6a" opacity="0.26"/><ellipse cx="3.29" cy="13.43" rx="0.64" ry="0.80" fill="#6a6a6a" opacity="0.14"/><ellipse cx="3.09" cy="8.15" rx="0.89" ry="1.88" fill="#6a6a6a" opacity="0.16"/><ellipse cx="0.24" cy="13.23" rx="1.4" ry="1.8" fill="#ffffff" opacity="0.5"/><ellipse cx="-2.18" cy="15.01" rx="1.4" ry="1.8" fill="#ffffff" opacity="0.5"/><ellipse cx="1.72" cy="9.88" rx="1.4" ry="1.8" fill="#ffffff" opacity="0.5"/></g>
<g clip-path="url(#mc2)"><g filter="url(#soft2)"><ellipse cx="0.00" cy="2.60" rx="2.40" ry="3.20" fill="#4a24aa"/><ellipse cx="0.00" cy="18.40" rx="4.80" ry="5.40" fill="#4a24aa"/><ellipse cx="0.30" cy="12.80" rx="1.50" ry="1.80" fill="#4a24aa"/></g></g>
</g></g>
<g transform="translate(125.40 354.60)">
<path d="M-0.45,20.5 L0.45,20.5 L0.80,41.90 L0.20,41.90 Z" fill="url(#tg)" filter="url(#soft)"/>
<g filter="url(#soft)">
<path d="M0.00,0.00 L0.70,0.90 L1.30,2.30 L2.00,3.80 L2.80,4.60 L3.70,5.00 L3.20,6.00 L3.40,7.40 L3.60,10.00 L3.70,13.00 L4.00,15.50 L4.50,17.80 L4.80,19.20 L4.60,20.60 L3.80,21.70 L2.20,22.40 L0.00,22.60 L-2.20,22.40 L-3.80,21.70 L-4.60,20.60 L-4.80,19.20 L-4.50,17.80 L-4.00,15.50 L-3.70,13.00 L-3.60,10.00 L-3.40,7.40 L-3.20,6.00 L-3.70,5.00 L-2.80,4.60 L-2.00,3.80 L-1.30,2.30 L-0.70,0.90 Z" fill="url(#mg)"/>
<g clip-path="url(#mc)"><ellipse cx="-0.33" cy="12.52" rx="1.34" ry="1.36" fill="#6a6a6a" opacity="0.19"/><ellipse cx="0.61" cy="6.14" rx="1.01" ry="1.56" fill="#6a6a6a" opacity="0.23"/><ellipse cx="-2.84" cy="8.16" rx="0.67" ry="1.77" fill="#6a6a6a" opacity="0.22"/><ellipse cx="-3.21" cy="19.70" rx="1.37" ry="1.58" fill="#6a6a6a" opacity="0.21"/><ellipse cx="-2.40" cy="3.26" rx="1.02" ry="0.87" fill="#6a6a6a" opacity="0.15"/><ellipse cx="-1.81" cy="3.51" rx="0.97" ry="1.33" fill="#6a6a6a" opacity="0.24"/><ellipse cx="0.13" cy="13.88" rx="1.00" ry="1.59" fill="#6a6a6a" opacity="0.18"/><ellipse cx="-1.11" cy="19.97" rx="1.4" ry="1.8" fill="#ffffff" opacity="0.5"/><ellipse cx="2.48" cy="18.08" rx="1.4" ry="1.8" fill="#ffffff" opacity="0.5"/><ellipse cx="1.04" cy="11.78" rx="1.4" ry="1.8" fill="#ffffff" opacity="0.5"/></g>
<g clip-path="url(#mc2)"><g filter="url(#soft2)"><ellipse cx="0.00" cy="3.00" rx="2.00" ry="2.60" fill="#4a24aa" opacity="0.55"/><ellipse cx="0.00" cy="18.80" rx="4.80" ry="5.00" fill="#4a24aa"/><ellipse cx="-1.50" cy="14.50" rx="1.60" ry="1.60" fill="#4a24aa"/></g></g>
</g></g>
<g transform="translate(81.20 403.60)">
<path d="M-0.45,20.5 L0.45,20.5 L0.90,41.00 L0.30,41.00 Z" fill="url(#tg)" filter="url(#soft)"/>
<g filter="url(#soft)">
<path d="M0.00,0.00 L0.70,0.90 L1.30,2.30 L2.00,3.80 L2.80,4.60 L3.70,5.00 L3.20,6.00 L3.40,7.40 L3.60,10.00 L3.70,13.00 L4.00,15.50 L4.50,17.80 L4.80,19.20 L4.60,20.60 L3.80,21.70 L2.20,22.40 L0.00,22.60 L-2.20,22.40 L-3.80,21.70 L-4.60,20.60 L-4.80,19.20 L-4.50,17.80 L-4.00,15.50 L-3.70,13.00 L-3.60,10.00 L-3.40,7.40 L-3.20,6.00 L-3.70,5.00 L-2.80,4.60 L-2.00,3.80 L-1.30,2.30 L-0.70,0.90 Z" fill="url(#mg)"/>
<g clip-path="url(#mc)"><ellipse cx="-2.75" cy="14.94" rx="1.12" ry="1.93" fill="#6a6a6a" opacity="0.16"/><ellipse cx="-1.71" cy="15.48" rx="1.13" ry="1.16" fill="#6a6a6a" opacity="0.22"/><ellipse cx="-0.72" cy="16.22" rx="0.69" ry="1.07" fill="#6a6a6a" opacity="0.25"/><ellipse cx="-0.99" cy="7.43" rx="1.24" ry="1.56" fill="#6a6a6a" opacity="0.14"/><ellipse cx="0.36" cy="14.29" rx="0.73" ry="1.58" fill="#6a6a6a" opacity="0.14"/><ellipse cx="-1.14" cy="4.41" rx="0.76" ry="1.97" fill="#6a6a6a" opacity="0.18"/><ellipse cx="3.43" cy="10.46" rx="1.09" ry="1.85" fill="#6a6a6a" opacity="0.22"/><ellipse cx="-1.94" cy="15.07" rx="1.4" ry="1.8" fill="#ffffff" opacity="0.5"/><ellipse cx="0.67" cy="10.17" rx="1.4" ry="1.8" fill="#ffffff" opacity="0.5"/><ellipse cx="-2.03" cy="18.50" rx="1.4" ry="1.8" fill="#ffffff" opacity="0.5"/></g>
<g clip-path="url(#mc2)"><g filter="url(#soft2)"><path d="M0.00,0.00 L0.70,0.90 L1.30,2.30 L2.00,3.80 L2.80,4.60 L3.70,5.00 L3.20,6.00 L3.40,7.40 L3.60,10.00 L3.70,13.00 L4.00,15.50 L4.50,17.80 L4.80,19.20 L4.60,20.60 L3.80,21.70 L2.20,22.40 L0.00,22.60 L-2.20,22.40 L-3.80,21.70 L-4.60,20.60 L-4.80,19.20 L-4.50,17.80 L-4.00,15.50 L-3.70,13.00 L-3.60,10.00 L-3.40,7.40 L-3.20,6.00 L-3.70,5.00 L-2.80,4.60 L-2.00,3.80 L-1.30,2.30 L-0.70,0.90 Z" fill="#4a24aa" transform="translate(0 -0.3) scale(1.16 1.03)"/><ellipse cx="0.00" cy="10.00" rx="3.60" ry="8.00" fill="#2a48d8"/><ellipse cx="0.00" cy="3.20" rx="1.80" ry="2.20" fill="#50d090"/><ellipse cx="1.20" cy="8.50" rx="1.10" ry="2.60" fill="#ffffff"/><ellipse cx="1.60" cy="13.50" rx="1.10" ry="2.20" fill="#ffffff" opacity="0.9"/><ellipse cx="-1.60" cy="14.50" rx="2.00" ry="3.00" fill="#48c868"/><ellipse cx="-0.60" cy="19.00" rx="3.20" ry="2.40" fill="#40c4f0"/><ellipse cx="-4.20" cy="20.00" rx="1.30" ry="1.20" fill="#40c4f0"/></g></g>
</g></g>
<g transform="translate(92.40 403.60)">
<path d="M-0.45,20.5 L0.45,20.5 L-0.20,41.00 L-0.80,41.00 Z" fill="url(#tg)" filter="url(#soft)"/>
<g filter="url(#soft)">
<path d="M0.00,0.00 L0.70,0.90 L1.30,2.30 L2.00,3.80 L2.80,4.60 L3.70,5.00 L3.20,6.00 L3.40,7.40 L3.60,10.00 L3.70,13.00 L4.00,15.50 L4.50,17.80 L4.80,19.20 L4.60,20.60 L3.80,21.70 L2.20,22.40 L0.00,22.60 L-2.20,22.40 L-3.80,21.70 L-4.60,20.60 L-4.80,19.20 L-4.50,17.80 L-4.00,15.50 L-3.70,13.00 L-3.60,10.00 L-3.40,7.40 L-3.20,6.00 L-3.70,5.00 L-2.80,4.60 L-2.00,3.80 L-1.30,2.30 L-0.70,0.90 Z" fill="url(#mg)"/>
<g clip-path="url(#mc)"><ellipse cx="3.26" cy="3.20" rx="1.19" ry="0.99" fill="#6a6a6a" opacity="0.26"/><ellipse cx="-3.38" cy="17.95" rx="1.15" ry="1.83" fill="#6a6a6a" opacity="0.26"/><ellipse cx="-1.82" cy="8.75" rx="1.17" ry="1.14" fill="#6a6a6a" opacity="0.16"/><ellipse cx="-1.90" cy="17.58" rx="1.30" ry="1.76" fill="#6a6a6a" opacity="0.15"/><ellipse cx="2.97" cy="11.69" rx="0.79" ry="1.35" fill="#6a6a6a" opacity="0.18"/><ellipse cx="-2.95" cy="12.60" rx="0.89" ry="1.48" fill="#6a6a6a" opacity="0.25"/><ellipse cx="1.02" cy="9.89" rx="1.29" ry="1.99" fill="#6a6a6a" opacity="0.19"/><ellipse cx="2.23" cy="8.23" rx="1.4" ry="1.8" fill="#ffffff" opacity="0.5"/><ellipse cx="-1.80" cy="10.07" rx="1.4" ry="1.8" fill="#ffffff" opacity="0.5"/><ellipse cx="2.19" cy="16.29" rx="1.4" ry="1.8" fill="#ffffff" opacity="0.5"/></g>
<g clip-path="url(#mc2)"><g filter="url(#soft2)"><path d="M0.00,0.00 L0.70,0.90 L1.30,2.30 L2.00,3.80 L2.80,4.60 L3.70,5.00 L3.20,6.00 L3.40,7.40 L3.60,10.00 L3.70,13.00 L4.00,15.50 L4.50,17.80 L4.80,19.20 L4.60,20.60 L3.80,21.70 L2.20,22.40 L0.00,22.60 L-2.20,22.40 L-3.80,21.70 L-4.60,20.60 L-4.80,19.20 L-4.50,17.80 L-4.00,15.50 L-3.70,13.00 L-3.60,10.00 L-3.40,7.40 L-3.20,6.00 L-3.70,5.00 L-2.80,4.60 L-2.00,3.80 L-1.30,2.30 L-0.70,0.90 Z" fill="#4a24aa" transform="translate(0 -0.3) scale(1.16 1.03)"/><ellipse cx="0.00" cy="11.00" rx="3.60" ry="8.00" fill="#2a48d8"/><ellipse cx="-0.30" cy="2.20" rx="1.90" ry="2.00" fill="#40d0c0"/><ellipse cx="2.20" cy="7.00" rx="1.60" ry="1.80" fill="#ffffff"/><ellipse cx="-1.00" cy="12.60" rx="2.80" ry="3.40" fill="#80d050"/><ellipse cx="-1.00" cy="12.40" rx="1.70" ry="2.20" fill="#e8e040"/><ellipse cx="0.00" cy="17.80" rx="3.60" ry="3.00" fill="#30c0e0"/><ellipse cx="4.00" cy="20.50" rx="1.40" ry="1.20" fill="#ffffff"/><ellipse cx="-4.20" cy="20.50" rx="1.40" ry="1.20" fill="#30c0e0"/></g></g>
</g></g>
<g transform="translate(104.20 403.60)">
<path d="M-0.45,20.5 L0.45,20.5 L1.20,41.00 L0.60,41.00 Z" fill="url(#tg)" filter="url(#soft)"/>
<g filter="url(#soft)">
<path d="M0.00,0.00 L0.70,0.90 L1.30,2.30 L2.00,3.80 L2.80,4.60 L3.70,5.00 L3.20,6.00 L3.40,7.40 L3.60,10.00 L3.70,13.00 L4.00,15.50 L4.50,17.80 L4.80,19.20 L4.60,20.60 L3.80,21.70 L2.20,22.40 L0.00,22.60 L-2.20,22.40 L-3.80,21.70 L-4.60,20.60 L-4.80,19.20 L-4.50,17.80 L-4.00,15.50 L-3.70,13.00 L-3.60,10.00 L-3.40,7.40 L-3.20,6.00 L-3.70,5.00 L-2.80,4.60 L-2.00,3.80 L-1.30,2.30 L-0.70,0.90 Z" fill="url(#mg)"/>
<g clip-path="url(#mc)"><ellipse cx="-0.97" cy="11.17" rx="0.93" ry="1.34" fill="#6a6a6a" opacity="0.18"/><ellipse cx="1.10" cy="7.40" rx="1.11" ry="0.81" fill="#6a6a6a" opacity="0.16"/><ellipse cx="-1.15" cy="5.41" rx="1.19" ry="1.17" fill="#6a6a6a" opacity="0.23"/><ellipse cx="3.19" cy="7.31" rx="1.31" ry="1.77" fill="#6a6a6a" opacity="0.21"/><ellipse cx="-3.31" cy="10.77" rx="1.10" ry="1.16" fill="#6a6a6a" opacity="0.15"/><ellipse cx="-1.33" cy="7.39" rx="1.23" ry="1.22" fill="#6a6a6a" opacity="0.18"/><ellipse cx="1.00" cy="19.12" rx="0.83" ry="0.85" fill="#6a6a6a" opacity="0.26"/><ellipse cx="1.66" cy="17.48" rx="1.4" ry="1.8" fill="#ffffff" opacity="0.5"/><ellipse cx="0.12" cy="10.82" rx="1.4" ry="1.8" fill="#ffffff" opacity="0.5"/><ellipse cx="-1.73" cy="11.65" rx="1.4" ry="1.8" fill="#ffffff" opacity="0.5"/></g>
<g clip-path="url(#mc2)"><g filter="url(#soft2)"><path d="M0.00,0.00 L0.70,0.90 L1.30,2.30 L2.00,3.80 L2.80,4.60 L3.70,5.00 L3.20,6.00 L3.40,7.40 L3.60,10.00 L3.70,13.00 L4.00,15.50 L4.50,17.80 L4.80,19.20 L4.60,20.60 L3.80,21.70 L2.20,22.40 L0.00,22.60 L-2.20,22.40 L-3.80,21.70 L-4.60,20.60 L-4.80,19.20 L-4.50,17.80 L-4.00,15.50 L-3.70,13.00 L-3.60,10.00 L-3.40,7.40 L-3.20,6.00 L-3.70,5.00 L-2.80,4.60 L-2.00,3.80 L-1.30,2.30 L-0.70,0.90 Z" fill="#4a24aa" transform="translate(0 -0.3) scale(1.16 1.03)"/><ellipse cx="0.00" cy="11.00" rx="3.40" ry="8.00" fill="#2a40c8"/><ellipse cx="0.00" cy="1.80" rx="1.50" ry="1.70" fill="#40d0d0"/><ellipse cx="0.00" cy="6.20" rx="3.40" ry="1.30" fill="#ffffff"/><ellipse cx="1.50" cy="9.40" rx="1.10" ry="1.20" fill="#ffffff"/><ellipse cx="0.00" cy="13.20" rx="2.40" ry="3.00" fill="#40d070"/><ellipse cx="0.00" cy="17.80" rx="2.80" ry="2.40" fill="#30b8e8"/></g></g>
</g></g>
<g transform="translate(115.70 403.60)">
<path d="M-0.45,20.5 L0.45,20.5 L-0.10,41.00 L-0.70,41.00 Z" fill="url(#tg)" filter="url(#soft)"/>
<g filter="url(#soft)">
<path d="M0.00,0.00 L0.70,0.90 L1.30,2.30 L2.00,3.80 L2.80,4.60 L3.70,5.00 L3.20,6.00 L3.40,7.40 L3.60,10.00 L3.70,13.00 L4.00,15.50 L4.50,17.80 L4.80,19.20 L4.60,20.60 L3.80,21.70 L2.20,22.40 L0.00,22.60 L-2.20,22.40 L-3.80,21.70 L-4.60,20.60 L-4.80,19.20 L-4.50,17.80 L-4.00,15.50 L-3.70,13.00 L-3.60,10.00 L-3.40,7.40 L-3.20,6.00 L-3.70,5.00 L-2.80,4.60 L-2.00,3.80 L-1.30,2.30 L-0.70,0.90 Z" fill="url(#mg)"/>
<g clip-path="url(#mc)"><ellipse cx="0.15" cy="16.71" rx="1.37" ry="1.15" fill="#6a6a6a" opacity="0.23"/><ellipse cx="1.43" cy="14.24" rx="0.69" ry="0.83" fill="#6a6a6a" opacity="0.17"/><ellipse cx="1.72" cy="7.29" rx="1.00" ry="1.18" fill="#6a6a6a" opacity="0.24"/><ellipse cx="3.12" cy="9.83" rx="1.40" ry="0.87" fill="#6a6a6a" opacity="0.23"/><ellipse cx="2.63" cy="5.57" rx="1.16" ry="1.47" fill="#6a6a6a" opacity="0.25"/><ellipse cx="-2.03" cy="12.18" rx="1.31" ry="1.57" fill="#6a6a6a" opacity="0.16"/><ellipse cx="-2.93" cy="18.98" rx="0.98" ry="2.00" fill="#6a6a6a" opacity="0.14"/><ellipse cx="1.56" cy="17.76" rx="1.4" ry="1.8" fill="#ffffff" opacity="0.5"/><ellipse cx="2.10" cy="8.21" rx="1.4" ry="1.8" fill="#ffffff" opacity="0.5"/><ellipse cx="-0.64" cy="8.62" rx="1.4" ry="1.8" fill="#ffffff" opacity="0.5"/></g>
<g clip-path="url(#mc2)"><g filter="url(#soft2)"><path d="M0.00,0.00 L0.70,0.90 L1.30,2.30 L2.00,3.80 L2.80,4.60 L3.70,5.00 L3.20,6.00 L3.40,7.40 L3.60,10.00 L3.70,13.00 L4.00,15.50 L4.50,17.80 L4.80,19.20 L4.60,20.60 L3.80,21.70 L2.20,22.40 L0.00,22.60 L-2.20,22.40 L-3.80,21.70 L-4.60,20.60 L-4.80,19.20 L-4.50,17.80 L-4.00,15.50 L-3.70,13.00 L-3.60,10.00 L-3.40,7.40 L-3.20,6.00 L-3.70,5.00 L-2.80,4.60 L-2.00,3.80 L-1.30,2.30 L-0.70,0.90 Z" fill="#4a24aa" transform="translate(0 -0.3) scale(1.16 1.03)"/><ellipse cx="0.00" cy="19.40" rx="3.60" ry="2.60" fill="#28b4e8"/><ellipse cx="-3.80" cy="20.80" rx="1.40" ry="1.10" fill="#40d0c0"/><ellipse cx="3.80" cy="20.80" rx="1.40" ry="1.10" fill="#40d0c0"/><ellipse cx="0.00" cy="16.80" rx="3.20" ry="3.30" fill="#5cc850"/><ellipse cx="0.00" cy="14.60" rx="3.00" ry="3.30" fill="#eee030"/><ellipse cx="0.20" cy="13.20" rx="2.60" ry="2.90" fill="#f05018"/><ellipse cx="0.20" cy="12.80" rx="2.00" ry="2.50" fill="#d81010"/><ellipse cx="0.00" cy="3.90" rx="2.30" ry="2.90" fill="#e8a020"/><ellipse cx="0.00" cy="3.90" rx="1.80" ry="2.50" fill="#e02010"/></g></g>
</g></g>
<g transform="translate(126.70 403.60)">
<path d="M-0.45,20.5 L0.45,20.5 L0.80,41.00 L0.20,41.00 Z" fill="url(#tg)" filter="url(#soft)"/>
<g filter="url(#soft)">
<path d="M0.00,0.00 L0.70,0.90 L1.30,2.30 L2.00,3.80 L2.80,4.60 L3.70,5.00 L3.20,6.00 L3.40,7.40 L3.60,10.00 L3.70,13.00 L4.00,15.50 L4.50,17.80 L4.80,19.20 L4.60,20.60 L3.80,21.70 L2.20,22.40 L0.00,22.60 L-2.20,22.40 L-3.80,21.70 L-4.60,20.60 L-4.80,19.20 L-4.50,17.80 L-4.00,15.50 L-3.70,13.00 L-3.60,10.00 L-3.40,7.40 L-3.20,6.00 L-3.70,5.00 L-2.80,4.60 L-2.00,3.80 L-1.30,2.30 L-0.70,0.90 Z" fill="url(#mg)"/>
<g clip-path="url(#mc)"><ellipse cx="-2.23" cy="14.24" rx="0.87" ry="1.04" fill="#6a6a6a" opacity="0.19"/><ellipse cx="-0.04" cy="11.16" rx="0.97" ry="1.12" fill="#6a6a6a" opacity="0.16"/><ellipse cx="1.34" cy="8.52" rx="1.14" ry="1.74" fill="#6a6a6a" opacity="0.24"/><ellipse cx="3.11" cy="6.99" rx="0.79" ry="1.68" fill="#6a6a6a" opacity="0.20"/><ellipse cx="-2.09" cy="14.52" rx="1.30" ry="1.80" fill="#6a6a6a" opacity="0.15"/><ellipse cx="-1.41" cy="3.11" rx="1.38" ry="1.06" fill="#6a6a6a" opacity="0.22"/><ellipse cx="0.27" cy="13.09" rx="1.02" ry="1.79" fill="#6a6a6a" opacity="0.20"/><ellipse cx="-0.98" cy="9.38" rx="1.4" ry="1.8" fill="#ffffff" opacity="0.5"/><ellipse cx="-0.11" cy="19.08" rx="1.4" ry="1.8" fill="#ffffff" opacity="0.5"/><ellipse cx="-1.77" cy="16.21" rx="1.4" ry="1.8" fill="#ffffff" opacity="0.5"/></g>
<g clip-path="url(#mc2)"><g filter="url(#soft2)"><path d="M0.00,0.00 L0.70,0.90 L1.30,2.30 L2.00,3.80 L2.80,4.60 L3.70,5.00 L3.20,6.00 L3.40,7.40 L3.60,10.00 L3.70,13.00 L4.00,15.50 L4.50,17.80 L4.80,19.20 L4.60,20.60 L3.80,21.70 L2.20,22.40 L0.00,22.60 L-2.20,22.40 L-3.80,21.70 L-4.60,20.60 L-4.80,19.20 L-4.50,17.80 L-4.00,15.50 L-3.70,13.00 L-3.60,10.00 L-3.40,7.40 L-3.20,6.00 L-3.70,5.00 L-2.80,4.60 L-2.00,3.80 L-1.30,2.30 L-0.70,0.90 Z" fill="#4a24aa" transform="translate(0 -0.3) scale(1.16 1.03)"/><ellipse cx="0.30" cy="19.40" rx="3.60" ry="2.60" fill="#28b4e8"/><ellipse cx="-3.80" cy="20.80" rx="1.40" ry="1.10" fill="#40d0c0"/><ellipse cx="3.80" cy="20.80" rx="1.40" ry="1.10" fill="#40d0c0"/><ellipse cx="0.30" cy="16.80" rx="3.20" ry="3.30" fill="#5cc850"/><ellipse cx="0.30" cy="14.60" rx="3.00" ry="3.30" fill="#eee030"/><ellipse cx="0.50" cy="13.20" rx="2.60" ry="2.90" fill="#f05018"/><ellipse cx="0.50" cy="12.80" rx="2.00" ry="2.50" fill="#d81010"/><ellipse cx="0.00" cy="3.90" rx="2.30" ry="2.90" fill="#e8a020"/><ellipse cx="0.00" cy="3.90" rx="1.80" ry="2.50" fill="#e02010"/></g></g>
</g></g>
<g transform="translate(156.10 306.80)">
<path d="M-0.45,20.5 L0.45,20.5 L0.90,42.00 L0.30,42.00 Z" fill="url(#tg)" filter="url(#soft)"/>
<g filter="url(#soft)">
<path d="M0.00,0.00 L0.70,0.90 L1.30,2.30 L2.00,3.80 L2.80,4.60 L3.70,5.00 L3.20,6.00 L3.40,7.40 L3.60,10.00 L3.70,13.00 L4.00,15.50 L4.50,17.80 L4.80,19.20 L4.60,20.60 L3.80,21.70 L2.20,22.40 L0.00,22.60 L-2.20,22.40 L-3.80,21.70 L-4.60,20.60 L-4.80,19.20 L-4.50,17.80 L-4.00,15.50 L-3.70,13.00 L-3.60,10.00 L-3.40,7.40 L-3.20,6.00 L-3.70,5.00 L-2.80,4.60 L-2.00,3.80 L-1.30,2.30 L-0.70,0.90 Z" fill="url(#mg)"/>
<g clip-path="url(#mc)"><ellipse cx="-1.83" cy="12.25" rx="0.90" ry="1.52" fill="#6a6a6a" opacity="0.21"/><ellipse cx="-3.04" cy="3.22" rx="1.27" ry="1.11" fill="#6a6a6a" opacity="0.15"/><ellipse cx="3.47" cy="10.99" rx="1.27" ry="1.37" fill="#6a6a6a" opacity="0.21"/><ellipse cx="-2.45" cy="13.79" rx="1.29" ry="1.43" fill="#6a6a6a" opacity="0.22"/><ellipse cx="1.20" cy="4.09" rx="1.21" ry="1.51" fill="#6a6a6a" opacity="0.16"/><ellipse cx="-3.28" cy="17.71" rx="0.98" ry="1.66" fill="#6a6a6a" opacity="0.24"/><ellipse cx="1.50" cy="18.66" rx="0.92" ry="1.76" fill="#6a6a6a" opacity="0.18"/><ellipse cx="2.18" cy="18.55" rx="1.4" ry="1.8" fill="#ffffff" opacity="0.5"/><ellipse cx="-2.01" cy="9.63" rx="1.4" ry="1.8" fill="#ffffff" opacity="0.5"/><ellipse cx="-1.42" cy="19.59" rx="1.4" ry="1.8" fill="#ffffff" opacity="0.5"/></g>
</g></g>
<g transform="translate(167.50 306.80)">
<path d="M-0.45,20.5 L0.45,20.5 L-0.20,42.00 L-0.80,42.00 Z" fill="url(#tg)" filter="url(#soft)"/>
<g filter="url(#soft)">
<path d="M0.00,0.00 L0.70,0.90 L1.30,2.30 L2.00,3.80 L2.80,4.60 L3.70,5.00 L3.20,6.00 L3.40,7.40 L3.60,10.00 L3.70,13.00 L4.00,15.50 L4.50,17.80 L4.80,19.20 L4.60,20.60 L3.80,21.70 L2.20,22.40 L0.00,22.60 L-2.20,22.40 L-3.80,21.70 L-4.60,20.60 L-4.80,19.20 L-4.50,17.80 L-4.00,15.50 L-3.70,13.00 L-3.60,10.00 L-3.40,7.40 L-3.20,6.00 L-3.70,5.00 L-2.80,4.60 L-2.00,3.80 L-1.30,2.30 L-0.70,0.90 Z" fill="url(#mg)"/>
<g clip-path="url(#mc)"><ellipse cx="-1.85" cy="4.75" rx="0.92" ry="0.99" fill="#6a6a6a" opacity="0.13"/><ellipse cx="-0.69" cy="18.61" rx="1.24" ry="1.72" fill="#6a6a6a" opacity="0.15"/><ellipse cx="0.26" cy="7.70" rx="0.74" ry="0.93" fill="#6a6a6a" opacity="0.15"/><ellipse cx="2.99" cy="17.09" rx="1.25" ry="1.76" fill="#6a6a6a" opacity="0.15"/><ellipse cx="-1.33" cy="13.66" rx="1.19" ry="1.83" fill="#6a6a6a" opacity="0.24"/><ellipse cx="-2.89" cy="13.30" rx="1.14" ry="1.41" fill="#6a6a6a" opacity="0.14"/><ellipse cx="-0.18" cy="4.52" rx="1.35" ry="1.84" fill="#6a6a6a" opacity="0.20"/><ellipse cx="-1.00" cy="18.91" rx="1.4" ry="1.8" fill="#ffffff" opacity="0.5"/><ellipse cx="0.36" cy="18.59" rx="1.4" ry="1.8" fill="#ffffff" opacity="0.5"/><ellipse cx="1.74" cy="14.10" rx="1.4" ry="1.8" fill="#ffffff" opacity="0.5"/></g>
</g></g>
<g transform="translate(179.20 306.80)">
<path d="M-0.45,20.5 L0.45,20.5 L1.20,42.00 L0.60,42.00 Z" fill="url(#tg)" filter="url(#soft)"/>
<g filter="url(#soft)">
<path d="M0.00,0.00 L0.70,0.90 L1.30,2.30 L2.00,3.80 L2.80,4.60 L3.70,5.00 L3.20,6.00 L3.40,7.40 L3.60,10.00 L3.70,13.00 L4.00,15.50 L4.50,17.80 L4.80,19.20 L4.60,20.60 L3.80,21.70 L2.20,22.40 L0.00,22.60 L-2.20,22.40 L-3.80,21.70 L-4.60,20.60 L-4.80,19.20 L-4.50,17.80 L-4.00,15.50 L-3.70,13.00 L-3.60,10.00 L-3.40,7.40 L-3.20,6.00 L-3.70,5.00 L-2.80,4.60 L-2.00,3.80 L-1.30,2.30 L-0.70,0.90 Z" fill="url(#mg)"/>
<g clip-path="url(#mc)"><ellipse cx="0.86" cy="15.61" rx="1.24" ry="1.93" fill="#6a6a6a" opacity="0.22"/><ellipse cx="2.96" cy="3.49" rx="0.97" ry="1.93" fill="#6a6a6a" opacity="0.21"/><ellipse cx="2.81" cy="4.92" rx="0.98" ry="1.10" fill="#6a6a6a" opacity="0.20"/><ellipse cx="0.52" cy="3.22" rx="0.77" ry="1.14" fill="#6a6a6a" opacity="0.25"/><ellipse cx="1.86" cy="5.71" rx="1.24" ry="0.97" fill="#6a6a6a" opacity="0.21"/><ellipse cx="-2.61" cy="3.03" rx="1.30" ry="1.05" fill="#6a6a6a" opacity="0.15"/><ellipse cx="3.38" cy="17.83" rx="0.83" ry="1.95" fill="#6a6a6a" opacity="0.20"/><ellipse cx="0.89" cy="10.46" rx="1.4" ry="1.8" fill="#ffffff" opacity="0.5"/><ellipse cx="2.20" cy="16.29" rx="1.4" ry="1.8" fill="#ffffff" opacity="0.5"/><ellipse cx="2.33" cy="18.72" rx="1.4" ry="1.8" fill="#ffffff" opacity="0.5"/></g>
</g></g>
<g transform="translate(190.10 306.80)">
<path d="M-0.45,20.5 L0.45,20.5 L-0.10,42.00 L-0.70,42.00 Z" fill="url(#tg)" filter="url(#soft)"/>
<g filter="url(#soft)">
<path d="M0.00,0.00 L0.70,0.90 L1.30,2.30 L2.00,3.80 L2.80,4.60 L3.70,5.00 L3.20,6.00 L3.40,7.40 L3.60,10.00 L3.70,13.00 L4.00,15.50 L4.50,17.80 L4.80,19.20 L4.60,20.60 L3.80,21.70 L2.20,22.40 L0.00,22.60 L-2.20,22.40 L-3.80,21.70 L-4.60,20.60 L-4.80,19.20 L-4.50,17.80 L-4.00,15.50 L-3.70,13.00 L-3.60,10.00 L-3.40,7.40 L-3.20,6.00 L-3.70,5.00 L-2.80,4.60 L-2.00,3.80 L-1.30,2.30 L-0.70,0.90 Z" fill="url(#mg)"/>
<g clip-path="url(#mc)"><ellipse cx="2.05" cy="16.97" rx="0.99" ry="1.11" fill="#6a6a6a" opacity="0.12"/><ellipse cx="1.14" cy="10.99" rx="1.21" ry="1.25" fill="#6a6a6a" opacity="0.23"/><ellipse cx="-1.59" cy="16.63" rx="1.18" ry="1.30" fill="#6a6a6a" opacity="0.20"/><ellipse cx="1.27" cy="6.28" rx="1.04" ry="1.77" fill="#6a6a6a" opacity="0.16"/><ellipse cx="2.12" cy="14.66" rx="1.28" ry="1.20" fill="#6a6a6a" opacity="0.13"/><ellipse cx="2.10" cy="16.68" rx="0.96" ry="0.91" fill="#6a6a6a" opacity="0.15"/><ellipse cx="0.94" cy="7.95" rx="1.36" ry="1.51" fill="#6a6a6a" opacity="0.15"/><ellipse cx="0.78" cy="12.32" rx="1.4" ry="1.8" fill="#ffffff" opacity="0.5"/><ellipse cx="2.16" cy="18.91" rx="1.4" ry="1.8" fill="#ffffff" opacity="0.5"/><ellipse cx="0.07" cy="15.73" rx="1.4" ry="1.8" fill="#ffffff" opacity="0.5"/></g>
</g></g>
<g transform="translate(201.40 306.80)">
<path d="M-0.45,20.5 L0.45,20.5 L0.80,42.00 L0.20,42.00 Z" fill="url(#tg)" filter="url(#soft)"/>
<g filter="url(#soft)">
<path d="M0.00,0.00 L0.70,0.90 L1.30,2.30 L2.00,3.80 L2.80,4.60 L3.70,5.00 L3.20,6.00 L3.40,7.40 L3.60,10.00 L3.70,13.00 L4.00,15.50 L4.50,17.80 L4.80,19.20 L4.60,20.60 L3.80,21.70 L2.20,22.40 L0.00,22.60 L-2.20,22.40 L-3.80,21.70 L-4.60,20.60 L-4.80,19.20 L-4.50,17.80 L-4.00,15.50 L-3.70,13.00 L-3.60,10.00 L-3.40,7.40 L-3.20,6.00 L-3.70,5.00 L-2.80,4.60 L-2.00,3.80 L-1.30,2.30 L-0.70,0.90 Z" fill="url(#mg)"/>
<g clip-path="url(#mc)"><ellipse cx="-1.23" cy="5.56" rx="1.12" ry="0.89" fill="#6a6a6a" opacity="0.20"/><ellipse cx="-0.94" cy="3.99" rx="1.01" ry="0.84" fill="#6a6a6a" opacity="0.18"/><ellipse cx="-3.01" cy="4.54" rx="0.94" ry="1.79" fill="#6a6a6a" opacity="0.14"/><ellipse cx="-1.94" cy="13.67" rx="1.36" ry="1.49" fill="#6a6a6a" opacity="0.18"/><ellipse cx="3.33" cy="3.79" rx="1.29" ry="1.15" fill="#6a6a6a" opacity="0.14"/><ellipse cx="-2.68" cy="8.24" rx="1.25" ry="1.02" fill="#6a6a6a" opacity="0.20"/><ellipse cx="0.97" cy="9.33" rx="1.04" ry="0.88" fill="#6a6a6a" opacity="0.13"/><ellipse cx="-1.47" cy="16.16" rx="1.4" ry="1.8" fill="#ffffff" opacity="0.5"/><ellipse cx="-0.36" cy="11.77" rx="1.4" ry="1.8" fill="#ffffff" opacity="0.5"/><ellipse cx="0.43" cy="13.44" rx="1.4" ry="1.8" fill="#ffffff" opacity="0.5"/></g>
</g></g>
<g transform="translate(151.30 355.30)">
<path d="M-0.45,20.5 L0.45,20.5 L0.90,41.20 L0.30,41.20 Z" fill="url(#tg)" filter="url(#soft)"/>
<g filter="url(#soft)">
<path d="M0.00,0.00 L0.70,0.90 L1.30,2.30 L2.00,3.80 L2.80,4.60 L3.70,5.00 L3.20,6.00 L3.40,7.40 L3.60,10.00 L3.70,13.00 L4.00,15.50 L4.50,17.80 L4.80,19.20 L4.60,20.60 L3.80,21.70 L2.20,22.40 L0.00,22.60 L-2.20,22.40 L-3.80,21.70 L-4.60,20.60 L-4.80,19.20 L-4.50,17.80 L-4.00,15.50 L-3.70,13.00 L-3.60,10.00 L-3.40,7.40 L-3.20,6.00 L-3.70,5.00 L-2.80,4.60 L-2.00,3.80 L-1.30,2.30 L-0.70,0.90 Z" fill="url(#mg)"/>
<g clip-path="url(#mc)"><ellipse cx="0.50" cy="10.29" rx="1.06" ry="1.05" fill="#6a6a6a" opacity="0.23"/><ellipse cx="2.27" cy="14.11" rx="0.73" ry="1.42" fill="#6a6a6a" opacity="0.17"/><ellipse cx="-1.75" cy="19.20" rx="1.40" ry="0.85" fill="#6a6a6a" opacity="0.24"/><ellipse cx="0.72" cy="9.49" rx="0.83" ry="1.61" fill="#6a6a6a" opacity="0.18"/><ellipse cx="1.30" cy="14.25" rx="0.71" ry="1.72" fill="#6a6a6a" opacity="0.26"/><ellipse cx="3.29" cy="13.43" rx="0.64" ry="0.80" fill="#6a6a6a" opacity="0.14"/><ellipse cx="3.09" cy="8.15" rx="0.89" ry="1.88" fill="#6a6a6a" opacity="0.16"/><ellipse cx="0.24" cy="13.23" rx="1.4" ry="1.8" fill="#ffffff" opacity="0.5"/><ellipse cx="-2.18" cy="15.01" rx="1.4" ry="1.8" fill="#ffffff" opacity="0.5"/><ellipse cx="1.72" cy="9.88" rx="1.4" ry="1.8" fill="#ffffff" opacity="0.5"/></g>
</g></g>
<g transform="translate(162.70 355.30)">
<path d="M-0.45,20.5 L0.45,20.5 L-0.20,41.20 L-0.80,41.20 Z" fill="url(#tg)" filter="url(#soft)"/>
<g filter="url(#soft)">
<path d="M0.00,0.00 L0.70,0.90 L1.30,2.30 L2.00,3.80 L2.80,4.60 L3.70,5.00 L3.20,6.00 L3.40,7.40 L3.60,10.00 L3.70,13.00 L4.00,15.50 L4.50,17.80 L4.80,19.20 L4.60,20.60 L3.80,21.70 L2.20,22.40 L0.00,22.60 L-2.20,22.40 L-3.80,21.70 L-4.60,20.60 L-4.80,19.20 L-4.50,17.80 L-4.00,15.50 L-3.70,13.00 L-3.60,10.00 L-3.40,7.40 L-3.20,6.00 L-3.70,5.00 L-2.80,4.60 L-2.00,3.80 L-1.30,2.30 L-0.70,0.90 Z" fill="url(#mg)"/>
<g clip-path="url(#mc)"><ellipse cx="-0.33" cy="12.52" rx="1.34" ry="1.36" fill="#6a6a6a" opacity="0.19"/><ellipse cx="0.61" cy="6.14" rx="1.01" ry="1.56" fill="#6a6a6a" opacity="0.23"/><ellipse cx="-2.84" cy="8.16" rx="0.67" ry="1.77" fill="#6a6a6a" opacity="0.22"/><ellipse cx="-3.21" cy="19.70" rx="1.37" ry="1.58" fill="#6a6a6a" opacity="0.21"/><ellipse cx="-2.40" cy="3.26" rx="1.02" ry="0.87" fill="#6a6a6a" opacity="0.15"/><ellipse cx="-1.81" cy="3.51" rx="0.97" ry="1.33" fill="#6a6a6a" opacity="0.24"/><ellipse cx="0.13" cy="13.88" rx="1.00" ry="1.59" fill="#6a6a6a" opacity="0.18"/><ellipse cx="-1.11" cy="19.97" rx="1.4" ry="1.8" fill="#ffffff" opacity="0.5"/><ellipse cx="2.48" cy="18.08" rx="1.4" ry="1.8" fill="#ffffff" opacity="0.5"/><ellipse cx="1.04" cy="11.78" rx="1.4" ry="1.8" fill="#ffffff" opacity="0.5"/></g>
</g></g>
<g transform="translate(174.00 355.30)">
<path d="M-0.45,20.5 L0.45,20.5 L1.20,41.20 L0.60,41.20 Z" fill="url(#tg)" filter="url(#soft)"/>
<g filter="url(#soft)">
<path d="M0.00,0.00 L0.70,0.90 L1.30,2.30 L2.00,3.80 L2.80,4.60 L3.70,5.00 L3.20,6.00 L3.40,7.40 L3.60,10.00 L3.70,13.00 L4.00,15.50 L4.50,17.80 L4.80,19.20 L4.60,20.60 L3.80,21.70 L2.20,22.40 L0.00,22.60 L-2.20,22.40 L-3.80,21.70 L-4.60,20.60 L-4.80,19.20 L-4.50,17.80 L-4.00,15.50 L-3.70,13.00 L-3.60,10.00 L-3.40,7.40 L-3.20,6.00 L-3.70,5.00 L-2.80,4.60 L-2.00,3.80 L-1.30,2.30 L-0.70,0.90 Z" fill="url(#mg)"/>
<g clip-path="url(#mc)"><ellipse cx="-0.18" cy="14.18" rx="1.13" ry="0.97" fill="#6a6a6a" opacity="0.12"/><ellipse cx="-0.88" cy="7.66" rx="1.25" ry="1.63" fill="#6a6a6a" opacity="0.20"/><ellipse cx="0.41" cy="14.24" rx="0.72" ry="1.33" fill="#6a6a6a" opacity="0.14"/><ellipse cx="2.84" cy="4.00" rx="1.26" ry="0.89" fill="#6a6a6a" opacity="0.22"/><ellipse cx="-1.14" cy="9.88" rx="1.27" ry="0.82" fill="#6a6a6a" opacity="0.13"/><ellipse cx="2.91" cy="11.65" rx="0.67" ry="1.98" fill="#6a6a6a" opacity="0.25"/><ellipse cx="-2.71" cy="10.19" rx="0.71" ry="1.18" fill="#6a6a6a" opacity="0.21"/><ellipse cx="-1.68" cy="16.36" rx="1.4" ry="1.8" fill="#ffffff" opacity="0.5"/><ellipse cx="-2.24" cy="10.05" rx="1.4" ry="1.8" fill="#ffffff" opacity="0.5"/><ellipse cx="1.58" cy="12.81" rx="1.4" ry="1.8" fill="#ffffff" opacity="0.5"/></g>
</g></g>
<g transform="translate(185.80 355.30)">
<path d="M-0.45,20.5 L0.45,20.5 L-0.10,41.20 L-0.70,41.20 Z" fill="url(#tg)" filter="url(#soft)"/>
<g filter="url(#soft)">
<path d="M0.00,0.00 L0.70,0.90 L1.30,2.30 L2.00,3.80 L2.80,4.60 L3.70,5.00 L3.20,6.00 L3.40,7.40 L3.60,10.00 L3.70,13.00 L4.00,15.50 L4.50,17.80 L4.80,19.20 L4.60,20.60 L3.80,21.70 L2.20,22.40 L0.00,22.60 L-2.20,22.40 L-3.80,21.70 L-4.60,20.60 L-4.80,19.20 L-4.50,17.80 L-4.00,15.50 L-3.70,13.00 L-3.60,10.00 L-3.40,7.40 L-3.20,6.00 L-3.70,5.00 L-2.80,4.60 L-2.00,3.80 L-1.30,2.30 L-0.70,0.90 Z" fill="url(#mg)"/>
<g clip-path="url(#mc)"><ellipse cx="-1.69" cy="14.65" rx="1.15" ry="1.82" fill="#6a6a6a" opacity="0.15"/><ellipse cx="-1.89" cy="5.50" rx="0.78" ry="1.68" fill="#6a6a6a" opacity="0.14"/><ellipse cx="0.22" cy="6.64" rx="0.84" ry="1.32" fill="#6a6a6a" opacity="0.24"/><ellipse cx="0.76" cy="3.25" rx="0.82" ry="0.98" fill="#6a6a6a" opacity="0.24"/><ellipse cx="2.17" cy="16.70" rx="1.26" ry="1.69" fill="#6a6a6a" opacity="0.25"/><ellipse cx="2.06" cy="7.36" rx="1.28" ry="1.38" fill="#6a6a6a" opacity="0.23"/><ellipse cx="0.45" cy="10.30" rx="0.89" ry="1.32" fill="#6a6a6a" opacity="0.16"/><ellipse cx="-1.91" cy="17.84" rx="1.4" ry="1.8" fill="#ffffff" opacity="0.5"/><ellipse cx="1.49" cy="19.83" rx="1.4" ry="1.8" fill="#ffffff" opacity="0.5"/><ellipse cx="0.95" cy="14.65" rx="1.4" ry="1.8" fill="#ffffff" opacity="0.5"/></g>
</g></g>
<g transform="translate(197.60 355.30)">
<path d="M-0.45,20.5 L0.45,20.5 L0.80,41.20 L0.20,41.20 Z" fill="url(#tg)" filter="url(#soft)"/>
<g filter="url(#soft)">
<path d="M0.00,0.00 L0.70,0.90 L1.30,2.30 L2.00,3.80 L2.80,4.60 L3.70,5.00 L3.20,6.00 L3.40,7.40 L3.60,10.00 L3.70,13.00 L4.00,15.50 L4.50,17.80 L4.80,19.20 L4.60,20.60 L3.80,21.70 L2.20,22.40 L0.00,22.60 L-2.20,22.40 L-3.80,21.70 L-4.60,20.60 L-4.80,19.20 L-4.50,17.80 L-4.00,15.50 L-3.70,13.00 L-3.60,10.00 L-3.40,7.40 L-3.20,6.00 L-3.70,5.00 L-2.80,4.60 L-2.00,3.80 L-1.30,2.30 L-0.70,0.90 Z" fill="url(#mg)"/>
<g clip-path="url(#mc)"><ellipse cx="-2.75" cy="14.94" rx="1.12" ry="1.93" fill="#6a6a6a" opacity="0.16"/><ellipse cx="-1.71" cy="15.48" rx="1.13" ry="1.16" fill="#6a6a6a" opacity="0.22"/><ellipse cx="-0.72" cy="16.22" rx="0.69" ry="1.07" fill="#6a6a6a" opacity="0.25"/><ellipse cx="-0.99" cy="7.43" rx="1.24" ry="1.56" fill="#6a6a6a" opacity="0.14"/><ellipse cx="0.36" cy="14.29" rx="0.73" ry="1.58" fill="#6a6a6a" opacity="0.14"/><ellipse cx="-1.14" cy="4.41" rx="0.76" ry="1.97" fill="#6a6a6a" opacity="0.18"/><ellipse cx="3.43" cy="10.46" rx="1.09" ry="1.85" fill="#6a6a6a" opacity="0.22"/><ellipse cx="-1.94" cy="15.07" rx="1.4" ry="1.8" fill="#ffffff" opacity="0.5"/><ellipse cx="0.67" cy="10.17" rx="1.4" ry="1.8" fill="#ffffff" opacity="0.5"/><ellipse cx="-2.03" cy="18.50" rx="1.4" ry="1.8" fill="#ffffff" opacity="0.5"/></g>
</g></g>
<g transform="translate(153.50 403.60)">
<path d="M-0.45,20.5 L0.45,20.5 L0.90,41.00 L0.30,41.00 Z" fill="url(#tg)" filter="url(#soft)"/>
<g filter="url(#soft)">
<path d="M0.00,0.00 L0.70,0.90 L1.30,2.30 L2.00,3.80 L2.80,4.60 L3.70,5.00 L3.20,6.00 L3.40,7.40 L3.60,10.00 L3.70,13.00 L4.00,15.50 L4.50,17.80 L4.80,19.20 L4.60,20.60 L3.80,21.70 L2.20,22.40 L0.00,22.60 L-2.20,22.40 L-3.80,21.70 L-4.60,20.60 L-4.80,19.20 L-4.50,17.80 L-4.00,15.50 L-3.70,13.00 L-3.60,10.00 L-3.40,7.40 L-3.20,6.00 L-3.70,5.00 L-2.80,4.60 L-2.00,3.80 L-1.30,2.30 L-0.70,0.90 Z" fill="url(#mg)"/>
<g clip-path="url(#mc)"><ellipse cx="0.15" cy="16.71" rx="1.37" ry="1.15" fill="#6a6a6a" opacity="0.23"/><ellipse cx="1.43" cy="14.24" rx="0.69" ry="0.83" fill="#6a6a6a" opacity="0.17"/><ellipse cx="1.72" cy="7.29" rx="1.00" ry="1.18" fill="#6a6a6a" opacity="0.24"/><ellipse cx="3.12" cy="9.83" rx="1.40" ry="0.87" fill="#6a6a6a" opacity="0.23"/><ellipse cx="2.63" cy="5.57" rx="1.16" ry="1.47" fill="#6a6a6a" opacity="0.25"/><ellipse cx="-2.03" cy="12.18" rx="1.31" ry="1.57" fill="#6a6a6a" opacity="0.16"/><ellipse cx="-2.93" cy="18.98" rx="0.98" ry="2.00" fill="#6a6a6a" opacity="0.14"/><ellipse cx="1.56" cy="17.76" rx="1.4" ry="1.8" fill="#ffffff" opacity="0.5"/><ellipse cx="2.10" cy="8.21" rx="1.4" ry="1.8" fill="#ffffff" opacity="0.5"/><ellipse cx="-0.64" cy="8.62" rx="1.4" ry="1.8" fill="#ffffff" opacity="0.5"/></g>
<g clip-path="url(#mc2)"><g filter="url(#soft2)"><ellipse cx="-1.4" cy="16.6" rx="2.4" ry="2.8" fill="none" stroke="#8a5ad0" stroke-width="1.2"/><ellipse cx="-1.40" cy="16.60" rx="0.90" ry="1.20" fill="#5a2090" opacity="0.8"/></g></g>
</g></g>
<g transform="translate(164.90 403.60)">
<path d="M-0.45,20.5 L0.45,20.5 L-0.20,41.00 L-0.80,41.00 Z" fill="url(#tg)" filter="url(#soft)"/>
<g filter="url(#soft)">
<path d="M0.00,0.00 L0.70,0.90 L1.30,2.30 L2.00,3.80 L2.80,4.60 L3.70,5.00 L3.20,6.00 L3.40,7.40 L3.60,10.00 L3.70,13.00 L4.00,15.50 L4.50,17.80 L4.80,19.20 L4.60,20.60 L3.80,21.70 L2.20,22.40 L0.00,22.60 L-2.20,22.40 L-3.80,21.70 L-4.60,20.60 L-4.80,19.20 L-4.50,17.80 L-4.00,15.50 L-3.70,13.00 L-3.60,10.00 L-3.40,7.40 L-3.20,6.00 L-3.70,5.00 L-2.80,4.60 L-2.00,3.80 L-1.30,2.30 L-0.70,0.90 Z" fill="url(#mg)"/>
<g clip-path="url(#mc)"><ellipse cx="-2.23" cy="14.24" rx="0.87" ry="1.04" fill="#6a6a6a" opacity="0.19"/><ellipse cx="-0.04" cy="11.16" rx="0.97" ry="1.12" fill="#6a6a6a" opacity="0.16"/><ellipse cx="1.34" cy="8.52" rx="1.14" ry="1.74" fill="#6a6a6a" opacity="0.24"/><ellipse cx="3.11" cy="6.99" rx="0.79" ry="1.68" fill="#6a6a6a" opacity="0.20"/><ellipse cx="-2.09" cy="14.52" rx="1.30" ry="1.80" fill="#6a6a6a" opacity="0.15"/><ellipse cx="-1.41" cy="3.11" rx="1.38" ry="1.06" fill="#6a6a6a" opacity="0.22"/><ellipse cx="0.27" cy="13.09" rx="1.02" ry="1.79" fill="#6a6a6a" opacity="0.20"/><ellipse cx="-0.98" cy="9.38" rx="1.4" ry="1.8" fill="#ffffff" opacity="0.5"/><ellipse cx="-0.11" cy="19.08" rx="1.4" ry="1.8" fill="#ffffff" opacity="0.5"/><ellipse cx="-1.77" cy="16.21" rx="1.4" ry="1.8" fill="#ffffff" opacity="0.5"/></g>
</g></g>
<g transform="translate(176.70 403.60)">
<path d="M-0.45,20.5 L0.45,20.5 L1.20,41.00 L0.60,41.00 Z" fill="url(#tg)" filter="url(#soft)"/>
<g filter="url(#soft)">
<path d="M0.00,0.00 L0.70,0.90 L1.30,2.30 L2.00,3.80 L2.80,4.60 L3.70,5.00 L3.20,6.00 L3.40,7.40 L3.60,10.00 L3.70,13.00 L4.00,15.50 L4.50,17.80 L4.80,19.20 L4.60,20.60 L3.80,21.70 L2.20,22.40 L0.00,22.60 L-2.20,22.40 L-3.80,21.70 L-4.60,20.60 L-4.80,19.20 L-4.50,17.80 L-4.00,15.50 L-3.70,13.00 L-3.60,10.00 L-3.40,7.40 L-3.20,6.00 L-3.70,5.00 L-2.80,4.60 L-2.00,3.80 L-1.30,2.30 L-0.70,0.90 Z" fill="url(#mg)"/>
<g clip-path="url(#mc)"><ellipse cx="1.24" cy="16.34" rx="1.02" ry="1.41" fill="#6a6a6a" opacity="0.18"/><ellipse cx="3.48" cy="7.92" rx="0.72" ry="1.11" fill="#6a6a6a" opacity="0.16"/><ellipse cx="-1.21" cy="7.55" rx="0.69" ry="1.19" fill="#6a6a6a" opacity="0.16"/><ellipse cx="0.48" cy="6.43" rx="0.66" ry="1.04" fill="#6a6a6a" opacity="0.20"/><ellipse cx="-0.78" cy="15.47" rx="1.24" ry="1.30" fill="#6a6a6a" opacity="0.13"/><ellipse cx="1.60" cy="15.85" rx="0.92" ry="1.59" fill="#6a6a6a" opacity="0.16"/><ellipse cx="2.90" cy="17.17" rx="1.23" ry="1.94" fill="#6a6a6a" opacity="0.15"/><ellipse cx="0.23" cy="16.78" rx="1.4" ry="1.8" fill="#ffffff" opacity="0.5"/><ellipse cx="1.51" cy="12.68" rx="1.4" ry="1.8" fill="#ffffff" opacity="0.5"/><ellipse cx="-1.81" cy="15.52" rx="1.4" ry="1.8" fill="#ffffff" opacity="0.5"/></g>
</g></g>
<g transform="translate(187.80 403.60)">
<path d="M-0.45,20.5 L0.45,20.5 L-0.10,41.00 L-0.70,41.00 Z" fill="url(#tg)" filter="url(#soft)"/>
<g filter="url(#soft)">
<path d="M0.00,0.00 L0.70,0.90 L1.30,2.30 L2.00,3.80 L2.80,4.60 L3.70,5.00 L3.20,6.00 L3.40,7.40 L3.60,10.00 L3.70,13.00 L4.00,15.50 L4.50,17.80 L4.80,19.20 L4.60,20.60 L3.80,21.70 L2.20,22.40 L0.00,22.60 L-2.20,22.40 L-3.80,21.70 L-4.60,20.60 L-4.80,19.20 L-4.50,17.80 L-4.00,15.50 L-3.70,13.00 L-3.60,10.00 L-3.40,7.40 L-3.20,6.00 L-3.70,5.00 L-2.80,4.60 L-2.00,3.80 L-1.30,2.30 L-0.70,0.90 Z" fill="url(#mg)"/>
<g clip-path="url(#mc)"><ellipse cx="2.84" cy="14.67" rx="1.21" ry="1.89" fill="#6a6a6a" opacity="0.16"/><ellipse cx="0.95" cy="18.38" rx="1.30" ry="1.49" fill="#6a6a6a" opacity="0.14"/><ellipse cx="-0.62" cy="19.90" rx="0.68" ry="1.18" fill="#6a6a6a" opacity="0.25"/><ellipse cx="-0.35" cy="6.55" rx="0.85" ry="1.89" fill="#6a6a6a" opacity="0.17"/><ellipse cx="-0.51" cy="13.67" rx="1.24" ry="1.39" fill="#6a6a6a" opacity="0.13"/><ellipse cx="0.51" cy="3.60" rx="0.68" ry="1.03" fill="#6a6a6a" opacity="0.22"/><ellipse cx="-1.52" cy="14.73" rx="0.73" ry="0.94" fill="#6a6a6a" opacity="0.12"/><ellipse cx="1.03" cy="18.31" rx="1.4" ry="1.8" fill="#ffffff" opacity="0.5"/><ellipse cx="-1.40" cy="10.85" rx="1.4" ry="1.8" fill="#ffffff" opacity="0.5"/><ellipse cx="-2.44" cy="15.74" rx="1.4" ry="1.8" fill="#ffffff" opacity="0.5"/></g>
</g></g>
<g transform="translate(198.90 403.60)">
<path d="M-0.45,20.5 L0.45,20.5 L0.80,41.00 L0.20,41.00 Z" fill="url(#tg)" filter="url(#soft)"/>
<g filter="url(#soft)">
<path d="M0.00,0.00 L0.70,0.90 L1.30,2.30 L2.00,3.80 L2.80,4.60 L3.70,5.00 L3.20,6.00 L3.40,7.40 L3.60,10.00 L3.70,13.00 L4.00,15.50 L4.50,17.80 L4.80,19.20 L4.60,20.60 L3.80,21.70 L2.20,22.40 L0.00,22.60 L-2.20,22.40 L-3.80,21.70 L-4.60,20.60 L-4.80,19.20 L-4.50,17.80 L-4.00,15.50 L-3.70,13.00 L-3.60,10.00 L-3.40,7.40 L-3.20,6.00 L-3.70,5.00 L-2.80,4.60 L-2.00,3.80 L-1.30,2.30 L-0.70,0.90 Z" fill="url(#mg)"/>
<g clip-path="url(#mc)"><ellipse cx="-2.35" cy="14.73" rx="1.11" ry="1.37" fill="#6a6a6a" opacity="0.15"/><ellipse cx="2.05" cy="16.73" rx="1.01" ry="1.41" fill="#6a6a6a" opacity="0.15"/><ellipse cx="-3.48" cy="9.31" rx="1.07" ry="0.88" fill="#6a6a6a" opacity="0.23"/><ellipse cx="-1.87" cy="6.96" rx="0.63" ry="2.00" fill="#6a6a6a" opacity="0.22"/><ellipse cx="2.63" cy="13.47" rx="0.63" ry="1.19" fill="#6a6a6a" opacity="0.19"/><ellipse cx="-2.69" cy="19.18" rx="0.89" ry="0.99" fill="#6a6a6a" opacity="0.23"/><ellipse cx="-2.63" cy="18.78" rx="0.96" ry="1.46" fill="#6a6a6a" opacity="0.17"/><ellipse cx="-0.08" cy="10.24" rx="1.4" ry="1.8" fill="#ffffff" opacity="0.5"/><ellipse cx="-2.31" cy="18.39" rx="1.4" ry="1.8" fill="#ffffff" opacity="0.5"/><ellipse cx="-1.33" cy="17.36" rx="1.4" ry="1.8" fill="#ffffff" opacity="0.5"/></g>
</g></g>
<g transform="translate(156.40 451.30)">
<path d="M-0.45,20.5 L0.45,20.5 L0.90,41.20 L0.30,41.20 Z" fill="url(#tg)" filter="url(#soft)"/>
<g filter="url(#soft)">
<path d="M0.00,0.00 L0.70,0.90 L1.30,2.30 L2.00,3.80 L2.80,4.60 L3.70,5.00 L3.20,6.00 L3.40,7.40 L3.60,10.00 L3.70,13.00 L4.00,15.50 L4.50,17.80 L4.80,19.20 L4.60,20.60 L3.80,21.70 L2.20,22.40 L0.00,22.60 L-2.20,22.40 L-3.80,21.70 L-4.60,20.60 L-4.80,19.20 L-4.50,17.80 L-4.00,15.50 L-3.70,13.00 L-3.60,10.00 L-3.40,7.40 L-3.20,6.00 L-3.70,5.00 L-2.80,4.60 L-2.00,3.80 L-1.30,2.30 L-0.70,0.90 Z" fill="url(#mg)"/>
<g clip-path="url(#mc)"><ellipse cx="1.49" cy="17.28" rx="0.75" ry="2.00" fill="#6a6a6a" opacity="0.15"/><ellipse cx="1.20" cy="4.56" rx="1.21" ry="0.98" fill="#6a6a6a" opacity="0.22"/><ellipse cx="1.57" cy="16.02" rx="0.95" ry="1.84" fill="#6a6a6a" opacity="0.26"/><ellipse cx="-2.69" cy="11.79" rx="1.37" ry="1.69" fill="#6a6a6a" opacity="0.18"/><ellipse cx="-1.37" cy="19.20" rx="0.67" ry="1.71" fill="#6a6a6a" opacity="0.24"/><ellipse cx="-2.40" cy="8.56" rx="0.84" ry="1.45" fill="#6a6a6a" opacity="0.17"/><ellipse cx="2.76" cy="18.72" rx="0.85" ry="1.87" fill="#6a6a6a" opacity="0.13"/><ellipse cx="-2.02" cy="15.98" rx="1.4" ry="1.8" fill="#ffffff" opacity="0.5"/><ellipse cx="1.50" cy="17.83" rx="1.4" ry="1.8" fill="#ffffff" opacity="0.5"/><ellipse cx="2.46" cy="18.32" rx="1.4" ry="1.8" fill="#ffffff" opacity="0.5"/></g>
<g clip-path="url(#mc2)"><g filter="url(#soft2)"><path d="M0.00,0.00 L0.70,0.90 L1.30,2.30 L2.00,3.80 L2.80,4.60 L3.70,5.00 L3.20,6.00 L3.40,7.40 L3.60,10.00 L3.70,13.00 L4.00,15.50 L4.50,17.80 L4.80,19.20 L4.60,20.60 L3.80,21.70 L2.20,22.40 L0.00,22.60 L-2.20,22.40 L-3.80,21.70 L-4.60,20.60 L-4.80,19.20 L-4.50,17.80 L-4.00,15.50 L-3.70,13.00 L-3.60,10.00 L-3.40,7.40 L-3.20,6.00 L-3.70,5.00 L-2.80,4.60 L-2.00,3.80 L-1.30,2.30 L-0.70,0.90 Z" fill="#4a24aa" transform="translate(0 -0.3) scale(1.16 1.03)"/><ellipse cx="1.80" cy="8.00" rx="2.40" ry="5.60" fill="#ffffff"/><ellipse cx="-0.80" cy="3.20" rx="1.00" ry="1.40" fill="#ffffff" opacity="0.8"/><ellipse cx="1.80" cy="16.50" rx="1.40" ry="1.60" fill="#ffffff" opacity="0.8"/><ellipse cx="-2.40" cy="19.00" rx="1.00" ry="1.00" fill="#ffffff" opacity="0.6"/></g></g>
</g></g>
<g transform="translate(167.90 451.30)">
<path d="M-0.45,20.5 L0.45,20.5 L-0.20,41.20 L-0.80,41.20 Z" fill="url(#tg)" filter="url(#soft)"/>
<g filter="url(#soft)">
<path d="M0.00,0.00 L0.70,0.90 L1.30,2.30 L2.00,3.80 L2.80,4.60 L3.70,5.00 L3.20,6.00 L3.40,7.40 L3.60,10.00 L3.70,13.00 L4.00,15.50 L4.50,17.80 L4.80,19.20 L4.60,20.60 L3.80,21.70 L2.20,22.40 L0.00,22.60 L-2.20,22.40 L-3.80,21.70 L-4.60,20.60 L-4.80,19.20 L-4.50,17.80 L-4.00,15.50 L-3.70,13.00 L-3.60,10.00 L-3.40,7.40 L-3.20,6.00 L-3.70,5.00 L-2.80,4.60 L-2.00,3.80 L-1.30,2.30 L-0.70,0.90 Z" fill="url(#mg)"/>
<g clip-path="url(#mc)"><ellipse cx="-0.86" cy="18.76" rx="1.27" ry="1.06" fill="#6a6a6a" opacity="0.24"/><ellipse cx="0.96" cy="3.72" rx="1.36" ry="1.11" fill="#6a6a6a" opacity="0.16"/><ellipse cx="-0.53" cy="13.00" rx="0.70" ry="1.62" fill="#6a6a6a" opacity="0.24"/><ellipse cx="0.09" cy="16.51" rx="1.10" ry="1.79" fill="#6a6a6a" opacity="0.15"/><ellipse cx="-0.99" cy="10.98" rx="0.68" ry="1.97" fill="#6a6a6a" opacity="0.21"/><ellipse cx="-2.81" cy="12.91" rx="0.93" ry="1.03" fill="#6a6a6a" opacity="0.14"/><ellipse cx="-0.27" cy="4.20" rx="1.05" ry="1.42" fill="#6a6a6a" opacity="0.14"/><ellipse cx="1.88" cy="8.49" rx="1.4" ry="1.8" fill="#ffffff" opacity="0.5"/><ellipse cx="-1.64" cy="17.81" rx="1.4" ry="1.8" fill="#ffffff" opacity="0.5"/><ellipse cx="-1.40" cy="13.09" rx="1.4" ry="1.8" fill="#ffffff" opacity="0.5"/></g>
<g clip-path="url(#mc2)"><g filter="url(#soft2)"><path d="M0.00,0.00 L0.70,0.90 L1.30,2.30 L2.00,3.80 L2.80,4.60 L3.70,5.00 L3.20,6.00 L3.40,7.40 L3.60,10.00 L3.70,13.00 L4.00,15.50 L4.50,17.80 L4.80,19.20 L4.60,20.60 L3.80,21.70 L2.20,22.40 L0.00,22.60 L-2.20,22.40 L-3.80,21.70 L-4.60,20.60 L-4.80,19.20 L-4.50,17.80 L-4.00,15.50 L-3.70,13.00 L-3.60,10.00 L-3.40,7.40 L-3.20,6.00 L-3.70,5.00 L-2.80,4.60 L-2.00,3.80 L-1.30,2.30 L-0.70,0.90 Z" fill="#4a24aa" transform="translate(0 -0.3) scale(1.16 1.03)"/><ellipse cx="0.60" cy="9.50" rx="3.60" ry="4.80" fill="#ffffff"/><ellipse cx="-0.50" cy="4.00" rx="1.40" ry="1.60" fill="#ffffff" opacity="0.8"/><ellipse cx="3.00" cy="18.00" rx="1.40" ry="1.80" fill="#ffffff" opacity="0.8"/></g></g>
</g></g>
<g transform="translate(179.20 451.30)">
<path d="M-0.45,20.5 L0.45,20.5 L1.20,41.20 L0.60,41.20 Z" fill="url(#tg)" filter="url(#soft)"/>
<g filter="url(#soft)">
<path d="M0.00,0.00 L0.70,0.90 L1.30,2.30 L2.00,3.80 L2.80,4.60 L3.70,5.00 L3.20,6.00 L3.40,7.40 L3.60,10.00 L3.70,13.00 L4.00,15.50 L4.50,17.80 L4.80,19.20 L4.60,20.60 L3.80,21.70 L2.20,22.40 L0.00,22.60 L-2.20,22.40 L-3.80,21.70 L-4.60,20.60 L-4.80,19.20 L-4.50,17.80 L-4.00,15.50 L-3.70,13.00 L-3.60,10.00 L-3.40,7.40 L-3.20,6.00 L-3.70,5.00 L-2.80,4.60 L-2.00,3.80 L-1.30,2.30 L-0.70,0.90 Z" fill="url(#mg)"/>
<g clip-path="url(#mc)"><ellipse cx="1.73" cy="6.45" rx="0.76" ry="1.52" fill="#6a6a6a" opacity="0.13"/><ellipse cx="1.93" cy="15.99" rx="0.63" ry="1.62" fill="#6a6a6a" opacity="0.19"/><ellipse cx="0.95" cy="19.21" rx="1.39" ry="1.29" fill="#6a6a6a" opacity="0.24"/><ellipse cx="2.00" cy="19.52" rx="0.62" ry="1.93" fill="#6a6a6a" opacity="0.15"/><ellipse cx="-2.59" cy="13.16" rx="1.27" ry="1.95" fill="#6a6a6a" opacity="0.17"/><ellipse cx="2.29" cy="3.52" rx="1.37" ry="1.15" fill="#6a6a6a" opacity="0.20"/><ellipse cx="-2.63" cy="3.75" rx="0.61" ry="1.52" fill="#6a6a6a" opacity="0.20"/><ellipse cx="1.58" cy="18.21" rx="1.4" ry="1.8" fill="#ffffff" opacity="0.5"/><ellipse cx="-0.38" cy="18.17" rx="1.4" ry="1.8" fill="#ffffff" opacity="0.5"/><ellipse cx="-1.50" cy="18.57" rx="1.4" ry="1.8" fill="#ffffff" opacity="0.5"/></g>
<g clip-path="url(#mc2)"><g filter="url(#soft2)"><path d="M0.00,0.00 L0.70,0.90 L1.30,2.30 L2.00,3.80 L2.80,4.60 L3.70,5.00 L3.20,6.00 L3.40,7.40 L3.60,10.00 L3.70,13.00 L4.00,15.50 L4.50,17.80 L4.80,19.20 L4.60,20.60 L3.80,21.70 L2.20,22.40 L0.00,22.60 L-2.20,22.40 L-3.80,21.70 L-4.60,20.60 L-4.80,19.20 L-4.50,17.80 L-4.00,15.50 L-3.70,13.00 L-3.60,10.00 L-3.40,7.40 L-3.20,6.00 L-3.70,5.00 L-2.80,4.60 L-2.00,3.80 L-1.30,2.30 L-0.70,0.90 Z" fill="#4a24aa" transform="translate(0 -0.3) scale(1.16 1.03)"/><ellipse cx="2.20" cy="6.50" rx="2.00" ry="4.00" fill="#ffffff"/><ellipse cx="-1.20" cy="11.50" rx="2.00" ry="3.00" fill="#ffffff" opacity="0.9"/><ellipse cx="3.00" cy="16.50" rx="1.60" ry="2.80" fill="#ffffff" opacity="0.9"/></g></g>
</g></g>
<g transform="translate(191.00 451.30)">
<path d="M-0.45,20.5 L0.45,20.5 L-0.10,41.20 L-0.70,41.20 Z" fill="url(#tg)" filter="url(#soft)"/>
<g filter="url(#soft)">
<path d="M0.00,0.00 L0.70,0.90 L1.30,2.30 L2.00,3.80 L2.80,4.60 L3.70,5.00 L3.20,6.00 L3.40,7.40 L3.60,10.00 L3.70,13.00 L4.00,15.50 L4.50,17.80 L4.80,19.20 L4.60,20.60 L3.80,21.70 L2.20,22.40 L0.00,22.60 L-2.20,22.40 L-3.80,21.70 L-4.60,20.60 L-4.80,19.20 L-4.50,17.80 L-4.00,15.50 L-3.70,13.00 L-3.60,10.00 L-3.40,7.40 L-3.20,6.00 L-3.70,5.00 L-2.80,4.60 L-2.00,3.80 L-1.30,2.30 L-0.70,0.90 Z" fill="url(#mg)"/>
<g clip-path="url(#mc)"><ellipse cx="1.04" cy="14.92" rx="1.37" ry="1.04" fill="#6a6a6a" opacity="0.13"/><ellipse cx="2.27" cy="8.66" rx="0.90" ry="1.78" fill="#6a6a6a" opacity="0.15"/><ellipse cx="2.87" cy="11.35" rx="0.66" ry="1.90" fill="#6a6a6a" opacity="0.20"/><ellipse cx="-2.95" cy="17.26" rx="1.22" ry="1.69" fill="#6a6a6a" opacity="0.21"/><ellipse cx="3.45" cy="3.21" rx="1.38" ry="1.57" fill="#6a6a6a" opacity="0.16"/><ellipse cx="0.79" cy="8.74" rx="1.12" ry="1.65" fill="#6a6a6a" opacity="0.19"/><ellipse cx="-2.81" cy="9.66" rx="0.84" ry="1.70" fill="#6a6a6a" opacity="0.25"/><ellipse cx="1.38" cy="14.37" rx="1.4" ry="1.8" fill="#ffffff" opacity="0.5"/><ellipse cx="-1.65" cy="16.49" rx="1.4" ry="1.8" fill="#ffffff" opacity="0.5"/><ellipse cx="-1.17" cy="19.97" rx="1.4" ry="1.8" fill="#ffffff" opacity="0.5"/></g>
<g clip-path="url(#mc2)"><g filter="url(#soft2)"><path d="M0.00,0.00 L0.70,0.90 L1.30,2.30 L2.00,3.80 L2.80,4.60 L3.70,5.00 L3.20,6.00 L3.40,7.40 L3.60,10.00 L3.70,13.00 L4.00,15.50 L4.50,17.80 L4.80,19.20 L4.60,20.60 L3.80,21.70 L2.20,22.40 L0.00,22.60 L-2.20,22.40 L-3.80,21.70 L-4.60,20.60 L-4.80,19.20 L-4.50,17.80 L-4.00,15.50 L-3.70,13.00 L-3.60,10.00 L-3.40,7.40 L-3.20,6.00 L-3.70,5.00 L-2.80,4.60 L-2.00,3.80 L-1.30,2.30 L-0.70,0.90 Z" fill="#4a24aa" transform="translate(0 -0.3) scale(1.16 1.03)"/><ellipse cx="1.20" cy="9.00" rx="2.80" ry="3.60" fill="#ffffff"/><ellipse cx="-1.40" cy="5.00" rx="1.80" ry="2.40" fill="#ffffff" opacity="0.85"/><ellipse cx="1.80" cy="15.50" rx="1.40" ry="1.80" fill="#ffffff" opacity="0.8"/></g></g>
</g></g>
<g transform="translate(202.20 451.30)">
<path d="M-0.45,20.5 L0.45,20.5 L0.80,41.20 L0.20,41.20 Z" fill="url(#tg)" filter="url(#soft)"/>
<g filter="url(#soft)">
<path d="M0.00,0.00 L0.70,0.90 L1.30,2.30 L2.00,3.80 L2.80,4.60 L3.70,5.00 L3.20,6.00 L3.40,7.40 L3.60,10.00 L3.70,13.00 L4.00,15.50 L4.50,17.80 L4.80,19.20 L4.60,20.60 L3.80,21.70 L2.20,22.40 L0.00,22.60 L-2.20,22.40 L-3.80,21.70 L-4.60,20.60 L-4.80,19.20 L-4.50,17.80 L-4.00,15.50 L-3.70,13.00 L-3.60,10.00 L-3.40,7.40 L-3.20,6.00 L-3.70,5.00 L-2.80,4.60 L-2.00,3.80 L-1.30,2.30 L-0.70,0.90 Z" fill="url(#mg)"/>
<g clip-path="url(#mc)"><ellipse cx="-2.71" cy="5.22" rx="1.08" ry="1.01" fill="#6a6a6a" opacity="0.14"/><ellipse cx="-0.25" cy="10.10" rx="0.77" ry="1.27" fill="#6a6a6a" opacity="0.24"/><ellipse cx="-2.58" cy="6.19" rx="0.62" ry="1.09" fill="#6a6a6a" opacity="0.13"/><ellipse cx="3.39" cy="8.35" rx="1.39" ry="0.96" fill="#6a6a6a" opacity="0.25"/><ellipse cx="0.05" cy="14.74" rx="1.13" ry="1.12" fill="#6a6a6a" opacity="0.15"/><ellipse cx="1.26" cy="5.23" rx="0.61" ry="1.73" fill="#6a6a6a" opacity="0.21"/><ellipse cx="-1.68" cy="11.85" rx="1.33" ry="1.13" fill="#6a6a6a" opacity="0.14"/><ellipse cx="-0.41" cy="10.01" rx="1.4" ry="1.8" fill="#ffffff" opacity="0.5"/><ellipse cx="-0.66" cy="8.39" rx="1.4" ry="1.8" fill="#ffffff" opacity="0.5"/><ellipse cx="1.32" cy="17.68" rx="1.4" ry="1.8" fill="#ffffff" opacity="0.5"/></g>
</g></g>
<g transform="translate(201.00 501.70)">
<path d="M-0.45,20.5 L0.45,20.5 L0.90,38.70 L0.30,38.70 Z" fill="url(#tg)" filter="url(#soft)"/>
<g filter="url(#soft)">
<path d="M0.00,0.00 L0.70,0.90 L1.30,2.30 L2.00,3.80 L2.80,4.60 L3.70,5.00 L3.20,6.00 L3.40,7.40 L3.60,10.00 L3.70,13.00 L4.00,15.50 L4.50,17.80 L4.80,19.20 L4.60,20.60 L3.80,21.70 L2.20,22.40 L0.00,22.60 L-2.20,22.40 L-3.80,21.70 L-4.60,20.60 L-4.80,19.20 L-4.50,17.80 L-4.00,15.50 L-3.70,13.00 L-3.60,10.00 L-3.40,7.40 L-3.20,6.00 L-3.70,5.00 L-2.80,4.60 L-2.00,3.80 L-1.30,2.30 L-0.70,0.90 Z" fill="url(#mg)"/>
<g clip-path="url(#mc)"><ellipse cx="-3.41" cy="4.91" rx="0.91" ry="1.62" fill="#6a6a6a" opacity="0.14"/><ellipse cx="-2.71" cy="6.94" rx="1.21" ry="0.98" fill="#6a6a6a" opacity="0.22"/><ellipse cx="1.14" cy="5.32" rx="1.03" ry="1.34" fill="#6a6a6a" opacity="0.18"/><ellipse cx="3.47" cy="4.58" rx="0.62" ry="1.93" fill="#6a6a6a" opacity="0.18"/><ellipse cx="-2.11" cy="8.62" rx="0.89" ry="1.95" fill="#6a6a6a" opacity="0.15"/><ellipse cx="-1.98" cy="12.94" rx="1.04" ry="1.94" fill="#6a6a6a" opacity="0.24"/><ellipse cx="-1.01" cy="6.47" rx="1.27" ry="1.99" fill="#6a6a6a" opacity="0.12"/><ellipse cx="1.18" cy="18.42" rx="1.4" ry="1.8" fill="#ffffff" opacity="0.5"/><ellipse cx="0.76" cy="10.62" rx="1.4" ry="1.8" fill="#ffffff" opacity="0.5"/><ellipse cx="1.48" cy="16.76" rx="1.4" ry="1.8" fill="#ffffff" opacity="0.5"/></g>
<g clip-path="url(#mc2)"><g filter="url(#soft2)"><ellipse cx="0.00" cy="17.30" rx="4.60" ry="4.60" fill="#8a70d8"/><ellipse cx="0.00" cy="17.30" rx="3.60" ry="3.60" fill="#4a24aa"/><ellipse cx="0.50" cy="17.80" rx="1.60" ry="1.60" fill="#3a1888"/></g></g>
</g></g>
<rect x="220.0" y="323.4" width="6.0" height="178.3" fill="url(#cb)"/>
<line x1="226.00" y1="323.90" x2="229.20" y2="323.90" stroke="#444" stroke-width="0.6" />
<text x="231.60" y="326.00" font-size="6.0" fill="#555">5.0</text>
<line x1="226.00" y1="363.20" x2="229.20" y2="363.20" stroke="#444" stroke-width="0.6" />
<text x="231.60" y="365.30" font-size="6.0" fill="#555">4.0</text>
<line x1="226.00" y1="401.90" x2="229.20" y2="401.90" stroke="#444" stroke-width="0.6" />
<text x="231.60" y="404.00" font-size="6.0" fill="#555">3.0</text>
<line x1="226.00" y1="439.60" x2="229.20" y2="439.60" stroke="#444" stroke-width="0.6" />
<text x="231.60" y="441.70" font-size="6.0" fill="#555">2.0</text>
<line x1="226.00" y1="479.20" x2="229.20" y2="479.20" stroke="#444" stroke-width="0.6" />
<text x="231.60" y="481.30" font-size="6.0" fill="#555">1.0</text>
<line x1="226.00" y1="323.90" x2="227.80" y2="323.90" stroke="#666" stroke-width="0.5" />
<line x1="226.00" y1="331.70" x2="227.80" y2="331.70" stroke="#666" stroke-width="0.5" />
<line x1="226.00" y1="339.50" x2="227.80" y2="339.50" stroke="#666" stroke-width="0.5" />
<line x1="226.00" y1="347.30" x2="227.80" y2="347.30" stroke="#666" stroke-width="0.5" />
<line x1="226.00" y1="355.10" x2="227.80" y2="355.10" stroke="#666" stroke-width="0.5" />
<line x1="226.00" y1="362.90" x2="227.80" y2="362.90" stroke="#666" stroke-width="0.5" />
<line x1="226.00" y1="370.70" x2="227.80" y2="370.70" stroke="#666" stroke-width="0.5" />
<line x1="226.00" y1="378.50" x2="227.80" y2="378.50" stroke="#666" stroke-width="0.5" />
<line x1="226.00" y1="386.30" x2="227.80" y2="386.30" stroke="#666" stroke-width="0.5" />
<line x1="226.00" y1="394.10" x2="227.80" y2="394.10" stroke="#666" stroke-width="0.5" />
<line x1="226.00" y1="401.90" x2="227.80" y2="401.90" stroke="#666" stroke-width="0.5" />
<line x1="226.00" y1="409.70" x2="227.80" y2="409.70" stroke="#666" stroke-width="0.5" />
<line x1="226.00" y1="417.50" x2="227.80" y2="417.50" stroke="#666" stroke-width="0.5" />
<line x1="226.00" y1="425.30" x2="227.80" y2="425.30" stroke="#666" stroke-width="0.5" />
<line x1="226.00" y1="433.10" x2="227.80" y2="433.10" stroke="#666" stroke-width="0.5" />
<line x1="226.00" y1="440.90" x2="227.80" y2="440.90" stroke="#666" stroke-width="0.5" />
<line x1="226.00" y1="448.70" x2="227.80" y2="448.70" stroke="#666" stroke-width="0.5" />
<line x1="226.00" y1="456.50" x2="227.80" y2="456.50" stroke="#666" stroke-width="0.5" />
<line x1="226.00" y1="464.30" x2="227.80" y2="464.30" stroke="#666" stroke-width="0.5" />
<line x1="226.00" y1="472.10" x2="227.80" y2="472.10" stroke="#666" stroke-width="0.5" />
<line x1="226.00" y1="479.90" x2="227.80" y2="479.90" stroke="#666" stroke-width="0.5" />
<line x1="226.00" y1="487.70" x2="227.80" y2="487.70" stroke="#666" stroke-width="0.5" />
<line x1="226.00" y1="495.50" x2="227.80" y2="495.50" stroke="#666" stroke-width="0.5" />
<text x="214.40" y="317.90" font-size="6.4" fill="#333" textLength="41.3" lengthAdjust="spacingAndGlyphs">Luminescence</text>
<text x="240.00" y="415.40" font-size="5.0" fill="#444">x10<tspan font-size="3.6" dy="-2.2">8</tspan></text>
<text x="264.80" y="446.30" font-size="11" fill="#231f20" textLength="45.3" lengthAdjust="spacingAndGlyphs" transform="rotate(-90 264.80 446.30)" style="stroke:#231f20;stroke-width:0.3">BLI (counts)</text>
<text x="234.30" y="511.80" font-size="6.0" fill="#333" text-anchor="middle">Radiance</text>
<text x="234.30" y="517.60" font-size="6.0" fill="#333" text-anchor="middle">(p/sec/cm<tspan font-size="4" dy="-2">2</tspan><tspan dy="2">/sr)</tspan></text>
<rect x="220.4" y="523.8" width="27.8" height="17.0" fill="none" stroke="#222" stroke-width="1.1"/>
<text x="222.40" y="528.60" font-size="4.2" fill="#333" textLength="17.5" lengthAdjust="spacingAndGlyphs">Color Scale</text>
<text x="222.40" y="533.70" font-size="4.2" fill="#333" textLength="22.5" lengthAdjust="spacingAndGlyphs">Min = 4.00e7</text>
<text x="222.40" y="538.80" font-size="4.2" fill="#333" textLength="23.5" lengthAdjust="spacingAndGlyphs">Max = 5.00e8</text>
<line x1="330.40" y1="195.80" x2="330.40" y2="326.90" stroke="#231f20" stroke-width="1.4" />
<line x1="329.70" y1="326.30" x2="489.00" y2="326.30" stroke="#231f20" stroke-width="1.4" />
<line x1="326.80" y1="325.80" x2="330.40" y2="325.80" stroke="#231f20" stroke-width="1.1" />
<text x="308.20" y="329.20" font-size="9.4" fill="#231f20" textLength="9.8" lengthAdjust="spacingAndGlyphs" stroke="#231f20" stroke-width="0.15">10</text>
<text x="319.00" y="325.70" font-size="5.6" fill="#231f20">5</text>
<line x1="328.70" y1="316.25" x2="330.40" y2="316.25" stroke="#231f20" stroke-width="0.7" />
<line x1="328.70" y1="310.67" x2="330.40" y2="310.67" stroke="#231f20" stroke-width="0.7" />
<line x1="328.70" y1="306.70" x2="330.40" y2="306.70" stroke="#231f20" stroke-width="0.7" />
<line x1="328.70" y1="303.63" x2="330.40" y2="303.63" stroke="#231f20" stroke-width="0.7" />
<line x1="328.70" y1="301.12" x2="330.40" y2="301.12" stroke="#231f20" stroke-width="0.7" />
<line x1="328.70" y1="298.99" x2="330.40" y2="298.99" stroke="#231f20" stroke-width="0.7" />
<line x1="328.70" y1="297.15" x2="330.40" y2="297.15" stroke="#231f20" stroke-width="0.7" />
<line x1="328.70" y1="295.53" x2="330.40" y2="295.53" stroke="#231f20" stroke-width="0.7" />
<line x1="326.80" y1="294.08" x2="330.40" y2="294.08" stroke="#231f20" stroke-width="1.1" />
<text x="308.20" y="297.48" font-size="9.4" fill="#231f20" textLength="9.8" lengthAdjust="spacingAndGlyphs" stroke="#231f20" stroke-width="0.15">10</text>
<text x="319.00" y="293.98" font-size="5.6" fill="#231f20">6</text>
<line x1="328.70" y1="284.53" x2="330.40" y2="284.53" stroke="#231f20" stroke-width="0.7" />
<line x1="328.70" y1="278.95" x2="330.40" y2="278.95" stroke="#231f20" stroke-width="0.7" />
<line x1="328.70" y1="274.98" x2="330.40" y2="274.98" stroke="#231f20" stroke-width="0.7" />
<line x1="328.70" y1="271.91" x2="330.40" y2="271.91" stroke="#231f20" stroke-width="0.7" />
<line x1="328.70" y1="269.40" x2="330.40" y2="269.40" stroke="#231f20" stroke-width="0.7" />
<line x1="328.70" y1="267.27" x2="330.40" y2="267.27" stroke="#231f20" stroke-width="0.7" />
<line x1="328.70" y1="265.43" x2="330.40" y2="265.43" stroke="#231f20" stroke-width="0.7" />
<line x1="328.70" y1="263.81" x2="330.40" y2="263.81" stroke="#231f20" stroke-width="0.7" />
<line x1="326.80" y1="262.36" x2="330.40" y2="262.36" stroke="#231f20" stroke-width="1.1" />
<text x="308.20" y="265.76" font-size="9.4" fill="#231f20" textLength="9.8" lengthAdjust="spacingAndGlyphs" stroke="#231f20" stroke-width="0.15">10</text>
<text x="319.00" y="262.26" font-size="5.6" fill="#231f20">7</text>
<line x1="328.70" y1="252.81" x2="330.40" y2="252.81" stroke="#231f20" stroke-width="0.7" />
<line x1="328.70" y1="247.23" x2="330.40" y2="247.23" stroke="#231f20" stroke-width="0.7" />
<line x1="328.70" y1="243.26" x2="330.40" y2="243.26" stroke="#231f20" stroke-width="0.7" />
<line x1="328.70" y1="240.19" x2="330.40" y2="240.19" stroke="#231f20" stroke-width="0.7" />
<line x1="328.70" y1="237.68" x2="330.40" y2="237.68" stroke="#231f20" stroke-width="0.7" />
<line x1="328.70" y1="235.55" x2="330.40" y2="235.55" stroke="#231f20" stroke-width="0.7" />
<line x1="328.70" y1="233.71" x2="330.40" y2="233.71" stroke="#231f20" stroke-width="0.7" />
<line x1="328.70" y1="232.09" x2="330.40" y2="232.09" stroke="#231f20" stroke-width="0.7" />
<line x1="326.80" y1="230.64" x2="330.40" y2="230.64" stroke="#231f20" stroke-width="1.1" />
<text x="308.20" y="234.04" font-size="9.4" fill="#231f20" textLength="9.8" lengthAdjust="spacingAndGlyphs" stroke="#231f20" stroke-width="0.15">10</text>
<text x="319.00" y="230.54" font-size="5.6" fill="#231f20">8</text>
<line x1="328.70" y1="221.09" x2="330.40" y2="221.09" stroke="#231f20" stroke-width="0.7" />
<line x1="328.70" y1="215.51" x2="330.40" y2="215.51" stroke="#231f20" stroke-width="0.7" />
<line x1="328.70" y1="211.54" x2="330.40" y2="211.54" stroke="#231f20" stroke-width="0.7" />
<line x1="328.70" y1="208.47" x2="330.40" y2="208.47" stroke="#231f20" stroke-width="0.7" />
<line x1="328.70" y1="205.96" x2="330.40" y2="205.96" stroke="#231f20" stroke-width="0.7" />
<line x1="328.70" y1="203.83" x2="330.40" y2="203.83" stroke="#231f20" stroke-width="0.7" />
<line x1="328.70" y1="201.99" x2="330.40" y2="201.99" stroke="#231f20" stroke-width="0.7" />
<line x1="328.70" y1="200.37" x2="330.40" y2="200.37" stroke="#231f20" stroke-width="0.7" />
<line x1="326.80" y1="198.92" x2="330.40" y2="198.92" stroke="#231f20" stroke-width="1.1" />
<text x="308.20" y="202.32" font-size="9.4" fill="#231f20" textLength="9.8" lengthAdjust="spacingAndGlyphs" stroke="#231f20" stroke-width="0.15">10</text>
<text x="319.00" y="198.82" font-size="5.6" fill="#231f20">9</text>
<line x1="367.20" y1="326.30" x2="367.20" y2="329.80" stroke="#231f20" stroke-width="1.1" />
<line x1="451.70" y1="326.30" x2="451.70" y2="329.80" stroke="#231f20" stroke-width="1.1" />
<text x="367.20" y="344.60" font-size="9.6" fill="#231f20" text-anchor="middle" stroke="#231f20" stroke-width="0.15">14</text>
<text x="451.70" y="344.60" font-size="9.6" fill="#231f20" text-anchor="middle" stroke="#231f20" stroke-width="0.15">21</text>
<text x="358.60" y="357.60" font-size="11" fill="#231f20" textLength="101.7" lengthAdjust="spacingAndGlyphs" style="stroke:#231f20;stroke-width:0.3">Time post transplant (days)</text>
<text x="300.00" y="302.60" font-size="11" fill="#231f20" textLength="89.4" lengthAdjust="spacingAndGlyphs" transform="rotate(-90 300.00 302.60)" style="stroke:#231f20;stroke-width:0.3">Radiance [p/s/cm<tspan font-size="7" dy="-3.5">2</tspan><tspan dy="3.5">/sr]</tspan></text>
<circle cx="345.0" cy="196.9" r="1.9" fill="#1c3f6e"/>
<circle cx="345.0" cy="211.3" r="1.9" fill="#c00c30"/>
<text x="350.80" y="200.20" font-size="9.4" fill="#231f20" textLength="29.0" lengthAdjust="spacingAndGlyphs" stroke="#231f20" stroke-width="0.15">Vehicle</text>
<text x="350.80" y="214.60" font-size="9.4" fill="#231f20" textLength="47.5" lengthAdjust="spacingAndGlyphs" stroke="#231f20" stroke-width="0.15">OTSSP167</text>
<polyline points="349.50,239.00 349.50,231.40 383.40,231.40 383.40,280.60" stroke="#222" stroke-width="1.0" fill="none" />
<text x="366.50" y="230.20" font-size="11" fill="#222" text-anchor="middle" stroke="#222" stroke-width="0.15">***</text>
<polyline points="435.50,215.90 435.50,206.90 467.40,206.90 467.40,252.30" stroke="#222" stroke-width="1.0" fill="none" />
<text x="451.90" y="206.40" font-size="11" fill="#222" text-anchor="middle" stroke="#222" stroke-width="0.15">**</text>
<circle cx="351.5" cy="246.0" r="2.2" fill="#1c3f6e"/>
<circle cx="347.7" cy="255.4" r="2.2" fill="#1c3f6e"/>
<circle cx="355.4" cy="251.8" r="2.2" fill="#1c3f6e"/>
<circle cx="347.7" cy="260.2" r="2.2" fill="#1c3f6e"/>
<circle cx="355.4" cy="256.3" r="2.2" fill="#1c3f6e"/>
<line x1="340.80" y1="253.30" x2="362.00" y2="253.30" stroke="#1c3f6e" stroke-width="1.3" />
<circle cx="383.0" cy="292.4" r="2.2" fill="#c00c30"/>
<circle cx="383.0" cy="301.8" r="2.2" fill="#c00c30"/>
<circle cx="383.0" cy="307.9" r="2.2" fill="#c00c30"/>
<circle cx="383.0" cy="315.5" r="2.2" fill="#c00c30"/>
<circle cx="383.0" cy="323.2" r="2.2" fill="#c00c30"/>
<line x1="372.50" y1="304.20" x2="393.90" y2="304.20" stroke="#c00c30" stroke-width="1.3" />
<circle cx="432.2" cy="225.0" r="2.2" fill="#1c3f6e"/>
<circle cx="440.4" cy="222.8" r="2.2" fill="#1c3f6e"/>
<circle cx="432.2" cy="231.0" r="2.2" fill="#1c3f6e"/>
<circle cx="440.4" cy="235.0" r="2.2" fill="#1c3f6e"/>
<circle cx="432.2" cy="238.6" r="2.2" fill="#1c3f6e"/>
<line x1="425.10" y1="229.60" x2="446.40" y2="229.60" stroke="#1c3f6e" stroke-width="1.3" />
<circle cx="467.7" cy="261.5" r="2.2" fill="#c00c30"/>
<circle cx="467.7" cy="270.5" r="2.2" fill="#c00c30"/>
<circle cx="463.3" cy="287.7" r="2.2" fill="#c00c30"/>
<circle cx="471.5" cy="287.7" r="2.2" fill="#c00c30"/>
<circle cx="467.7" cy="320.5" r="2.2" fill="#c00c30"/>
<line x1="456.80" y1="275.20" x2="477.80" y2="275.20" stroke="#c00c30" stroke-width="1.3" />
<line x1="329.60" y1="391.90" x2="329.60" y2="515.80" stroke="#231f20" stroke-width="1.3" />
<line x1="326.20" y1="515.20" x2="516.00" y2="515.20" stroke="#231f20" stroke-width="1.3" />
<line x1="326.20" y1="515.20" x2="329.60" y2="515.20" stroke="#231f20" stroke-width="1.1" />
<text x="321.90" y="518.70" font-size="10" fill="#231f20" text-anchor="end" stroke="#231f20" stroke-width="0.15">0</text>
<line x1="326.20" y1="459.35" x2="329.60" y2="459.35" stroke="#231f20" stroke-width="1.1" />
<text x="321.90" y="462.85" font-size="10" fill="#231f20" text-anchor="end" stroke="#231f20" stroke-width="0.15">50</text>
<line x1="326.20" y1="403.50" x2="329.60" y2="403.50" stroke="#231f20" stroke-width="1.1" />
<text x="321.90" y="407.00" font-size="10" fill="#231f20" text-anchor="end" stroke="#231f20" stroke-width="0.15">100</text>
<line x1="329.60" y1="515.20" x2="329.60" y2="519.00" stroke="#231f20" stroke-width="1.1" />
<text x="329.60" y="531.60" font-size="10.2" fill="#231f20" text-anchor="middle" stroke="#231f20" stroke-width="0.15">0</text>
<line x1="366.52" y1="515.20" x2="366.52" y2="519.00" stroke="#231f20" stroke-width="1.1" />
<text x="366.52" y="531.60" font-size="10.2" fill="#231f20" text-anchor="middle" stroke="#231f20" stroke-width="0.15">10</text>
<line x1="403.44" y1="515.20" x2="403.44" y2="519.00" stroke="#231f20" stroke-width="1.1" />
<text x="403.44" y="531.60" font-size="10.2" fill="#231f20" text-anchor="middle" stroke="#231f20" stroke-width="0.15">20</text>
<line x1="440.36" y1="515.20" x2="440.36" y2="519.00" stroke="#231f20" stroke-width="1.1" />
<text x="440.36" y="531.60" font-size="10.2" fill="#231f20" text-anchor="middle" stroke="#231f20" stroke-width="0.15">30</text>
<line x1="477.28" y1="515.20" x2="477.28" y2="519.00" stroke="#231f20" stroke-width="1.1" />
<text x="477.28" y="531.60" font-size="10.2" fill="#231f20" text-anchor="middle" stroke="#231f20" stroke-width="0.15">40</text>
<line x1="514.20" y1="515.20" x2="514.20" y2="519.00" stroke="#231f20" stroke-width="1.1" />
<text x="514.20" y="531.60" font-size="10.2" fill="#231f20" text-anchor="middle" stroke="#231f20" stroke-width="0.15">50</text>
<text x="373.00" y="544.00" font-size="11" fill="#231f20" textLength="100.8" lengthAdjust="spacingAndGlyphs" style="stroke:#231f20;stroke-width:0.3">Time post transplant (days)</text>
<text x="296.60" y="490.00" font-size="11" fill="#231f20" textLength="72.5" lengthAdjust="spacingAndGlyphs" transform="rotate(-90 296.60 490.00)" style="stroke:#231f20;stroke-width:0.3">Overall survival (%)</text>
<polyline points="409.90,403.50 447.74,403.50 447.74,425.84 455.13,425.84 455.13,448.18 462.51,448.18 462.51,492.86 480.97,492.86 480.97,515.20" stroke="#cf0c2e" stroke-width="1.4" fill="none" />
<polyline points="329.60,403.50 409.90,403.50 409.90,448.18 415.00,448.18 415.00,515.20" stroke="#285c9a" stroke-width="1.4" fill="none" />
<line x1="343.50" y1="440.40" x2="356.50" y2="440.40" stroke="#285c9a" stroke-width="1.2" />
<line x1="350.00" y1="438.40" x2="350.00" y2="440.40" stroke="#285c9a" stroke-width="1.2" />
<line x1="343.50" y1="458.30" x2="356.50" y2="458.30" stroke="#cf0c2e" stroke-width="1.2" />
<line x1="350.00" y1="456.30" x2="350.00" y2="458.30" stroke="#cf0c2e" stroke-width="1.2" />
<text x="360.40" y="443.60" font-size="9.4" fill="#231f20" textLength="29.0" lengthAdjust="spacingAndGlyphs" stroke="#231f20" stroke-width="0.15">Vehicle</text>
<text x="360.40" y="461.50" font-size="9.4" fill="#231f20" textLength="47.0" lengthAdjust="spacingAndGlyphs" stroke="#231f20" stroke-width="0.15">OTSSP167</text>
<text x="337.30" y="478.80" font-size="9.4" fill="#231f20" textLength="63.5" lengthAdjust="spacingAndGlyphs" stroke="#231f20" stroke-width="0.15"><tspan font-style="italic">P</tspan> value = .0031</text>
</svg>
</body></html>
